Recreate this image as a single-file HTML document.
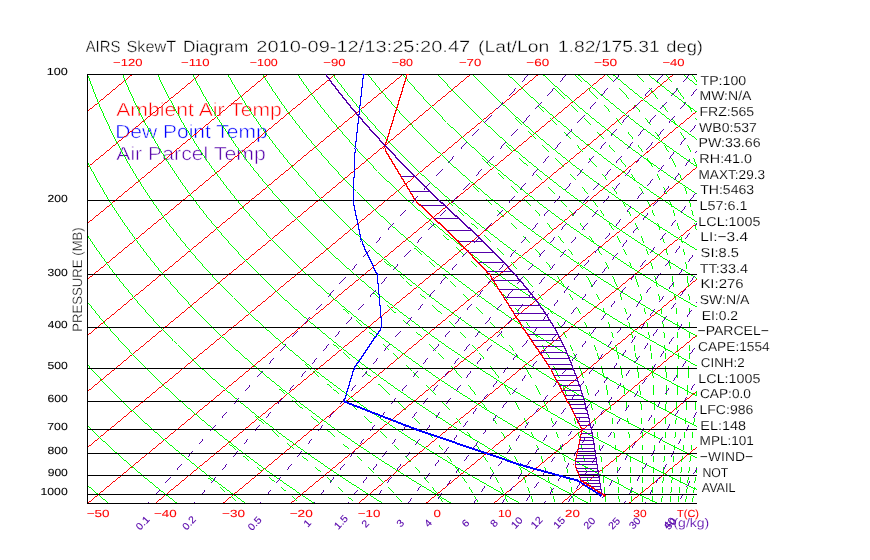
<!DOCTYPE html>
<html lang="en"><head><meta charset="utf-8"><title>AIRS SkewT Diagram</title>
<style>
html,body{margin:0;padding:0;background:#fff;}
body{width:870px;height:560px;overflow:hidden;font-family:"Liberation Sans", sans-serif;}
svg{display:block;position:absolute;left:0;top:0;}
svg text{font-family:"Liberation Sans", sans-serif;}
</style></head><body>
<svg width="870" height="560" viewBox="0 0 870 560">
<rect x="0" y="0" width="870" height="560" fill="#ffffff"/>
<defs><clipPath id="plot"><rect x="87" y="74" width="610" height="430"/></clipPath></defs>
<g text-rendering="geometricPrecision">
<text x="116.22" y="116.40" fill="#ff0000" font-size="19" textLength="165.65" lengthAdjust="spacingAndGlyphs" stroke="#fff" stroke-width="0.5">Ambient Air Temp</text>
<text x="115.16" y="137.60" fill="#0000ff" font-size="19" textLength="152.56" lengthAdjust="spacingAndGlyphs" stroke="#fff" stroke-width="0.5">Dew Point Temp</text>
<text x="116.22" y="159.70" fill="#5500aa" font-size="19" textLength="149.59" lengthAdjust="spacingAndGlyphs" stroke="#fff" stroke-width="0.5">Air Parcel Temp</text>
</g>
<g clip-path="url(#plot)" shape-rendering="crispEdges">
<path fill="#ff0000" d="M85.5 112.6L132.2 74L132.2 75L85.5 113.6ZM85.5 168.6L199.9 74L199.9 75L85.5 169.6ZM85.5 224.6L267.5 74L267.5 75L85.5 225.6ZM85.5 280.6L335.2 74L335.2 75L85.5 281.6ZM85.5 336.7L402.9 74L402.9 75L85.5 337.7ZM85.5 392.7L470.5 74L470.5 75L85.5 393.7ZM85.5 448.7L538.2 74L538.2 75L85.5 449.7ZM87.5 503L605.9 74L605.9 75L87.5 504ZM155.2 503L673.5 74L673.5 75L155.2 504ZM222.8 503L698.5 109.3L698.5 110.3L222.8 504ZM290.5 503L698.5 165.3L698.5 166.3L290.5 504ZM358.2 503L698.5 221.3L698.5 222.3L358.2 504ZM425.8 503L698.5 277.3L698.5 278.3L425.8 504ZM493.5 503L698.5 333.3L698.5 334.3L493.5 504ZM561.2 503L698.5 389.3L698.5 390.3L561.2 504ZM628.8 503L698.5 445.3L698.5 446.3L628.8 504ZM696.5 503L698.5 501.3L698.5 502.3L696.5 504Z"/>
<path fill="#00ff00" d="M108.7 503L106.6 501.3L104.6 499.5L102.5 497.7L100.4 495.9L98.3 494.1L96.1 492.3L94 490.4L91.9 488.5L89.7 486.7L87.6 484.7L85.4 482.8L85.4 483.8L87.6 485.7L89.7 487.7L91.9 489.5L94 491.4L96.1 493.3L98.3 495.1L100.4 496.9L102.5 498.7L104.6 500.5L106.6 502.3L108.7 504ZM177.3 503L175.1 501.3L172.8 499.5L170.5 497.7L168.2 495.9L165.9 494.1L163.6 492.3L161.3 490.4L159 488.5L156.6 486.7L154.3 484.7L151.9 482.8L149.5 480.9L147.1 478.9L144.7 476.9L142.3 474.9L139.9 472.8L137.5 470.8L135 468.7L132.6 466.6L130.1 464.4L127.6 462.3L125.1 460.1L122.6 457.9L120.1 455.7L117.6 453.4L115 451.1L112.5 448.8L109.9 446.4L107.3 444L104.7 441.6L102.1 439.2L99.5 436.7L96.9 434.2L94.2 431.6L91.5 429L88.9 426.4L86.2 423.7L83.5 421L83.5 422L86.2 424.7L88.9 427.4L91.5 430L94.2 432.6L96.9 435.2L99.5 437.7L102.1 440.2L104.7 442.6L107.3 445L109.9 447.4L112.5 449.8L115 452.1L117.6 454.4L120.1 456.7L122.6 458.9L125.1 461.1L127.6 463.3L130.1 465.4L132.6 467.6L135 469.7L137.5 471.8L139.9 473.8L142.3 475.9L144.7 477.9L147.1 479.9L149.5 481.9L151.9 483.8L154.3 485.7L156.6 487.7L159 489.5L161.3 491.4L163.6 493.3L165.9 495.1L168.2 496.9L170.5 498.7L172.8 500.5L175.1 502.3L177.3 504ZM246 503L243.5 501.3L241 499.5L238.6 497.7L236.1 495.9L233.6 494.1L231.1 492.3L228.6 490.4L226 488.5L223.5 486.7L220.9 484.7L218.4 482.8L215.8 480.9L213.2 478.9L210.6 476.9L208 474.9L205.3 472.8L202.7 470.8L200 468.7L197.4 466.6L194.7 464.4L192 462.3L189.3 460.1L186.6 457.9L183.8 455.7L181.1 453.4L178.3 451.1L175.5 448.8L172.7 446.4L169.9 444L167.1 441.6L164.2 439.2L161.3 436.7L158.5 434.2L155.6 431.6L152.7 429L149.7 426.4L146.8 423.7L143.8 421L140.8 418.3L137.8 415.5L134.8 412.7L131.8 409.8L128.7 406.9L125.6 403.9L122.6 400.9L119.4 397.8L116.3 394.7L116.3 395.7L119.4 398.8L122.6 401.9L125.6 404.9L128.7 407.9L131.8 410.8L134.8 413.7L137.8 416.5L140.8 419.3L143.8 422L146.8 424.7L149.7 427.4L152.7 430L155.6 432.6L158.5 435.2L161.3 437.7L164.2 440.2L167.1 442.6L169.9 445L172.7 447.4L175.5 449.8L178.3 452.1L181.1 454.4L183.8 456.7L186.6 458.9L189.3 461.1L192 463.3L194.7 465.4L197.4 467.6L200 469.7L202.7 471.8L205.3 473.8L208 475.9L210.6 477.9L213.2 479.9L215.8 481.9L218.4 483.8L220.9 485.7L223.5 487.7L226 489.5L228.6 491.4L231.1 493.3L233.6 495.1L236.1 496.9L238.6 498.7L241 500.5L243.5 502.3L246 504ZM115.8 395.2L112.7 392L109.5 388.8L106.3 385.5L103.1 382.2L99.8 378.8L96.6 375.3L93.3 371.7L90 368.1L86.7 364.5L83.3 360.7L84.3 360.7L87.7 364.5L91 368.1L94.3 371.7L97.6 375.3L100.8 378.8L104.1 382.2L107.3 385.5L110.5 388.8L113.7 392L116.8 395.2ZM314.6 503L311.9 501.3L309.3 499.5L306.6 497.7L303.9 495.9L301.3 494.1L298.6 492.3L295.8 490.4L293.1 488.5L290.4 486.7L287.6 484.7L284.8 482.8L282.1 480.9L279.3 478.9L276.5 476.9L273.6 474.9L270.8 472.8L267.9 470.8L265.1 468.7L262.2 466.6L259.3 464.4L256.4 462.3L253.4 460.1L250.5 457.9L247.5 455.7L244.5 453.4L241.5 451.1L238.5 448.8L235.5 446.4L232.4 444L229.4 441.6L226.3 439.2L223.2 436.7L220.1 434.2L216.9 431.6L213.8 429L210.6 426.4L207.4 423.7L204.2 421L200.9 418.3L197.7 415.5L194.4 412.7L191.1 409.8L187.7 406.9L184.4 403.9L181 400.9L177.6 397.8L174.2 394.7L170.8 391.5L167.3 388.3L163.8 385L160.3 381.7L156.8 378.3L153.2 374.8L149.6 371.2L146 367.6L146 368.6L149.6 372.2L153.2 375.8L156.8 379.3L160.3 382.7L163.8 386L167.3 389.3L170.8 392.5L174.2 395.7L177.6 398.8L181 401.9L184.4 404.9L187.7 407.9L191.1 410.8L194.4 413.7L197.7 416.5L200.9 419.3L204.2 422L207.4 424.7L210.6 427.4L213.8 430L216.9 432.6L220.1 435.2L223.2 437.7L226.3 440.2L229.4 442.6L232.4 445L235.5 447.4L238.5 449.8L241.5 452.1L244.5 454.4L247.5 456.7L250.5 458.9L253.4 461.1L256.4 463.3L259.3 465.4L262.2 467.6L265.1 469.7L267.9 471.8L270.8 473.8L273.6 475.9L276.5 477.9L279.3 479.9L282.1 481.9L284.8 483.8L287.6 485.7L290.4 487.7L293.1 489.5L295.8 491.4L298.6 493.3L301.3 495.1L303.9 496.9L306.6 498.7L309.3 500.5L311.9 502.3L314.6 504ZM145.5 368.1L141.9 364.5L138.2 360.7L134.5 356.8L130.8 352.9L127 348.9L123.2 344.8L119.4 340.6L115.6 336.3L111.7 331.9L107.8 327.4L103.9 322.8L99.9 318.1L96 313.2L91.9 308.2L87.9 303.1L83.8 297.8L84.8 297.8L88.9 303.1L92.9 308.2L97 313.2L100.9 318.1L104.9 322.8L108.8 327.4L112.7 331.9L116.6 336.3L120.4 340.6L124.2 344.8L128 348.9L131.8 352.9L135.5 356.8L139.2 360.7L142.9 364.5L146.5 368.1ZM383.2 503L380.4 501.3L377.5 499.5L374.7 497.7L371.8 495.9L368.9 494.1L366 492.3L363.1 490.4L360.2 488.5L357.3 486.7L354.3 484.7L351.3 482.8L348.3 480.9L345.3 478.9L342.3 476.9L339.3 474.9L336.2 472.8L333.2 470.8L330.1 468.7L327 466.6L323.9 464.4L320.7 462.3L317.6 460.1L314.4 457.9L311.2 455.7L308 453.4L304.8 451.1L301.5 448.8L298.3 446.4L295 444L291.7 441.6L288.4 439.2L285 436.7L281.7 434.2L278.3 431.6L274.9 429L271.4 426.4L268 423.7L264.5 421L261 418.3L257.5 415.5L253.9 412.7L250.4 409.8L246.8 406.9L243.1 403.9L239.5 400.9L235.8 397.8L232.1 394.7L228.4 391.5L224.6 388.3L220.9 385L217 381.7L213.2 378.3L209.3 374.8L205.4 371.2L201.5 367.6L197.5 364L193.6 360.2L189.5 356.3L185.5 352.4L181.4 348.4L177.3 344.3L177.3 345.3L181.4 349.4L185.5 353.4L189.5 357.3L193.6 361.2L197.5 365L201.5 368.6L205.4 372.2L209.3 375.8L213.2 379.3L217 382.7L220.9 386L224.6 389.3L228.4 392.5L232.1 395.7L235.8 398.8L239.5 401.9L243.1 404.9L246.8 407.9L250.4 410.8L253.9 413.7L257.5 416.5L261 419.3L264.5 422L268 424.7L271.4 427.4L274.9 430L278.3 432.6L281.7 435.2L285 437.7L288.4 440.2L291.7 442.6L295 445L298.3 447.4L301.5 449.8L304.8 452.1L308 454.4L311.2 456.7L314.4 458.9L317.6 461.1L320.7 463.3L323.9 465.4L327 467.6L330.1 469.7L333.2 471.8L336.2 473.8L339.3 475.9L342.3 477.9L345.3 479.9L348.3 481.9L351.3 483.8L354.3 485.7L357.3 487.7L360.2 489.5L363.1 491.4L366 493.3L368.9 495.1L371.8 496.9L374.7 498.7L377.5 500.5L380.4 502.3L383.2 504ZM176.8 344.8L172.6 340.6L168.4 336.3L164.2 331.9L159.9 327.4L155.6 322.8L151.3 318.1L146.9 313.2L142.5 308.2L138 303.1L133.5 297.8L129 292.3L124.4 286.7L119.8 280.9L115.1 274.9L110.4 268.8L105.7 262.4L100.9 255.7L96 248.8L91.2 241.7L86.3 234.2L81.3 226.5L82.3 226.5L87.3 234.2L92.2 241.7L97 248.8L101.9 255.7L106.7 262.4L111.4 268.8L116.1 274.9L120.8 280.9L125.4 286.7L130 292.3L134.5 297.8L139 303.1L143.5 308.2L147.9 313.2L152.3 318.1L156.6 322.8L160.9 327.4L165.2 331.9L169.4 336.3L173.6 340.6L177.8 344.8ZM451.8 503L448.8 501.3L445.8 499.5L442.7 497.7L439.7 495.9L436.6 494.1L433.5 492.3L430.4 490.4L427.3 488.5L424.1 486.7L421 484.7L417.8 482.8L414.6 480.9L411.4 478.9L408.2 476.9L404.9 474.9L401.7 472.8L398.4 470.8L395.1 468.7L391.8 466.6L388.5 464.4L385.1 462.3L381.7 460.1L378.4 457.9L374.9 455.7L371.5 453.4L368.1 451.1L364.6 448.8L361.1 446.4L357.6 444L354 441.6L350.5 439.2L346.9 436.7L343.3 434.2L339.6 431.6L336 429L332.3 426.4L328.6 423.7L324.8 421L321.1 418.3L317.3 415.5L313.5 412.7L309.6 409.8L305.8 406.9L301.9 403.9L298 400.9L294 397.8L290 394.7L286 391.5L282 388.3L277.9 385L273.8 381.7L269.6 378.3L265.5 374.8L261.2 371.2L257 367.6L252.7 364L248.4 360.2L244.1 356.3L239.7 352.4L235.2 348.4L230.8 344.3L226.3 340.1L221.7 335.8L217.1 331.4L212.5 326.9L207.8 322.3L207.8 323.3L212.5 327.9L217.1 332.4L221.7 336.8L226.3 341.1L230.8 345.3L235.2 349.4L239.7 353.4L244.1 357.3L248.4 361.2L252.7 365L257 368.6L261.2 372.2L265.5 375.8L269.6 379.3L273.8 382.7L277.9 386L282 389.3L286 392.5L290 395.7L294 398.8L298 401.9L301.9 404.9L305.8 407.9L309.6 410.8L313.5 413.7L317.3 416.5L321.1 419.3L324.8 422L328.6 424.7L332.3 427.4L336 430L339.6 432.6L343.3 435.2L346.9 437.7L350.5 440.2L354 442.6L357.6 445L361.1 447.4L364.6 449.8L368.1 452.1L371.5 454.4L374.9 456.7L378.4 458.9L381.7 461.1L385.1 463.3L388.5 465.4L391.8 467.6L395.1 469.7L398.4 471.8L401.7 473.8L404.9 475.9L408.2 477.9L411.4 479.9L414.6 481.9L417.8 483.8L421 485.7L424.1 487.7L427.3 489.5L430.4 491.4L433.5 493.3L436.6 495.1L439.7 496.9L442.7 498.7L445.8 500.5L448.8 502.3L451.8 504ZM207.3 322.8L202.6 318.1L197.8 313.2L193 308.2L188.1 303.1L183.2 297.8L178.2 292.3L173.2 286.7L168.2 280.9L163.1 274.9L157.9 268.8L152.7 262.4L147.4 255.7L142.1 248.8L136.7 241.7L131.3 234.2L125.8 226.5L120.2 218.4L114.6 209.9L109 201L103.3 191.6L97.6 181.7L91.9 171.3L86.1 160.3L80.3 148.5L81.3 148.5L87.1 160.3L92.9 171.3L98.6 181.7L104.3 191.6L110 201L115.6 209.9L121.2 218.4L126.8 226.5L132.3 234.2L137.7 241.7L143.1 248.8L148.4 255.7L153.7 262.4L158.9 268.8L164.1 274.9L169.2 280.9L174.2 286.7L179.2 292.3L184.2 297.8L189.1 303.1L194 308.2L198.8 313.2L203.6 318.1L208.3 322.8ZM520.4 503L517.2 501.3L514 499.5L510.8 497.7L507.5 495.9L504.3 494.1L501 492.3L497.7 490.4L494.4 488.5L491 486.7L487.7 484.7L484.3 482.8L480.9 480.9L477.5 478.9L474.1 476.9L470.6 474.9L467.1 472.8L463.7 470.8L460.1 468.7L456.6 466.6L453.1 464.4L449.5 462.3L445.9 460.1L442.3 457.9L438.6 455.7L435 453.4L431.3 451.1L427.6 448.8L423.9 446.4L420.1 444L416.3 441.6L412.5 439.2L408.7 436.7L404.9 434.2L401 431.6L397.1 429L393.1 426.4L389.2 423.7L385.2 421L381.2 418.3L377.1 415.5L373 412.7L368.9 409.8L364.8 406.9L360.6 403.9L356.4 400.9L352.2 397.8L347.9 394.7L343.6 391.5L339.3 388.3L334.9 385L330.5 381.7L326.1 378.3L321.6 374.8L317.1 371.2L312.5 367.6L307.9 364L303.3 360.2L298.6 356.3L293.9 352.4L289.1 348.4L284.3 344.3L279.4 340.1L274.5 335.8L269.5 331.4L264.5 326.9L259.5 322.3L254.4 317.6L249.2 312.7L244 307.7L238.7 302.6L233.4 297.3L233.4 298.3L238.7 303.6L244 308.7L249.2 313.7L254.4 318.6L259.5 323.3L264.5 327.9L269.5 332.4L274.5 336.8L279.4 341.1L284.3 345.3L289.1 349.4L293.9 353.4L298.6 357.3L303.3 361.2L307.9 365L312.5 368.6L317.1 372.2L321.6 375.8L326.1 379.3L330.5 382.7L334.9 386L339.3 389.3L343.6 392.5L347.9 395.7L352.2 398.8L356.4 401.9L360.6 404.9L364.8 407.9L368.9 410.8L373 413.7L377.1 416.5L381.2 419.3L385.2 422L389.2 424.7L393.1 427.4L397.1 430L401 432.6L404.9 435.2L408.7 437.7L412.5 440.2L416.3 442.6L420.1 445L423.9 447.4L427.6 449.8L431.3 452.1L435 454.4L438.6 456.7L442.3 458.9L445.9 461.1L449.5 463.3L453.1 465.4L456.6 467.6L460.1 469.7L463.7 471.8L467.1 473.8L470.6 475.9L474.1 477.9L477.5 479.9L480.9 481.9L484.3 483.8L487.7 485.7L491 487.7L494.4 489.5L497.7 491.4L501 493.3L504.3 495.1L507.5 496.9L510.8 498.7L514 500.5L517.2 502.3L520.4 504ZM232.9 297.8L227.5 292.3L222.1 286.7L216.6 280.9L211 274.9L205.4 268.8L199.7 262.4L193.9 255.7L188.1 248.8L182.2 241.7L176.2 234.2L170.2 226.5L164.1 218.4L158 209.9L151.7 201L145.4 191.6L139 181.7L132.6 171.3L126.1 160.3L119.6 148.5L113.1 135.9L106.5 122.4L100 107.8L93.5 91.9L87.1 74.5L88.1 74.5L94.5 91.9L101 107.8L107.5 122.4L114.1 135.9L120.6 148.5L127.1 160.3L133.6 171.3L140 181.7L146.4 191.6L152.7 201L159 209.9L165.1 218.4L171.2 226.5L177.2 234.2L183.2 241.7L189.1 248.8L194.9 255.7L200.7 262.4L206.4 268.8L212 274.9L217.6 280.9L223.1 286.7L228.5 292.3L233.9 297.8ZM589 503L585.7 501.3L582.2 499.5L578.8 497.7L575.4 495.9L571.9 494.1L568.4 492.3L564.9 490.4L561.4 488.5L557.9 486.7L554.3 484.7L550.8 482.8L547.2 480.9L543.6 478.9L539.9 476.9L536.3 474.9L532.6 472.8L528.9 470.8L525.2 468.7L521.4 466.6L517.7 464.4L513.9 462.3L510.1 460.1L506.2 457.9L502.4 455.7L498.5 453.4L494.6 451.1L490.6 448.8L486.7 446.4L482.7 444L478.7 441.6L474.6 439.2L470.6 436.7L466.5 434.2L462.3 431.6L458.2 429L454 426.4L449.8 423.7L445.5 421L441.3 418.3L436.9 415.5L432.6 412.7L428.2 409.8L423.8 406.9L419.4 403.9L414.9 400.9L410.4 397.8L405.8 394.7L401.2 391.5L396.6 388.3L391.9 385L387.2 381.7L382.5 378.3L377.7 374.8L372.9 371.2L368 367.6L363.1 364L358.1 360.2L353.1 356.3L348 352.4L342.9 348.4L337.8 344.3L332.6 340.1L327.3 335.8L322 331.4L316.6 326.9L311.2 322.3L305.7 317.6L300.1 312.7L294.5 307.7L288.8 302.6L283.1 297.3L277.3 291.8L271.4 286.2L265.5 280.4L259.5 274.4L259.5 275.4L265.5 281.4L271.4 287.2L277.3 292.8L283.1 298.3L288.8 303.6L294.5 308.7L300.1 313.7L305.7 318.6L311.2 323.3L316.6 327.9L322 332.4L327.3 336.8L332.6 341.1L337.8 345.3L342.9 349.4L348 353.4L353.1 357.3L358.1 361.2L363.1 365L368 368.6L372.9 372.2L377.7 375.8L382.5 379.3L387.2 382.7L391.9 386L396.6 389.3L401.2 392.5L405.8 395.7L410.4 398.8L414.9 401.9L419.4 404.9L423.8 407.9L428.2 410.8L432.6 413.7L436.9 416.5L441.3 419.3L445.5 422L449.8 424.7L454 427.4L458.2 430L462.3 432.6L466.5 435.2L470.6 437.7L474.6 440.2L478.7 442.6L482.7 445L486.7 447.4L490.6 449.8L494.6 452.1L498.5 454.4L502.4 456.7L506.2 458.9L510.1 461.1L513.9 463.3L517.7 465.4L521.4 467.6L525.2 469.7L528.9 471.8L532.6 473.8L536.3 475.9L539.9 477.9L543.6 479.9L547.2 481.9L550.8 483.8L554.3 485.7L557.9 487.7L561.4 489.5L564.9 491.4L568.4 493.3L571.9 495.1L575.4 496.9L578.8 498.7L582.2 500.5L585.7 502.3L589 504ZM259 274.9L252.9 268.8L246.7 262.4L240.5 255.7L234.1 248.8L227.7 241.7L221.2 234.2L214.7 226.5L208 218.4L201.3 209.9L194.4 201L187.5 191.6L180.5 181.7L173.4 171.3L166.2 160.3L159 148.5L151.6 135.9L144.3 122.4L136.9 107.8L129.5 91.9L122.1 74.5L123.1 74.5L130.5 91.9L137.9 107.8L145.3 122.4L152.6 135.9L160 148.5L167.2 160.3L174.4 171.3L181.5 181.7L188.5 191.6L195.4 201L202.3 209.9L209 218.4L215.7 226.5L222.2 234.2L228.7 241.7L235.1 248.8L241.5 255.7L247.7 262.4L253.9 268.8L260 274.9ZM657.7 503L654.1 501.3L650.5 499.5L646.9 497.7L643.2 495.9L639.6 494.1L635.9 492.3L632.2 490.4L628.5 488.5L624.8 486.7L621 484.7L617.2 482.8L613.4 480.9L609.6 478.9L605.8 476.9L601.9 474.9L598 472.8L594.1 470.8L590.2 468.7L586.2 466.6L582.2 464.4L578.2 462.3L574.2 460.1L570.1 457.9L566.1 455.7L562 453.4L557.8 451.1L553.7 448.8L549.5 446.4L545.2 444L541 441.6L536.7 439.2L532.4 436.7L528.1 434.2L523.7 431.6L519.3 429L514.8 426.4L510.4 423.7L505.9 421L501.3 418.3L496.8 415.5L492.2 412.7L487.5 409.8L482.8 406.9L478.1 403.9L473.4 400.9L468.6 397.8L463.7 394.7L458.9 391.5L453.9 388.3L449 385L444 381.7L438.9 378.3L433.8 374.8L428.7 371.2L423.5 367.6L418.3 364L413 360.2L407.6 356.3L402.2 352.4L396.8 348.4L391.3 344.3L385.7 340.1L380.1 335.8L374.4 331.4L368.7 326.9L362.9 322.3L357 317.6L351.1 312.7L345 307.7L339 302.6L332.8 297.3L326.6 291.8L320.3 286.2L313.9 280.4L307.4 274.4L300.9 268.3L294.2 261.9L287.5 255.2L287.5 256.2L294.2 262.9L300.9 269.3L307.4 275.4L313.9 281.4L320.3 287.2L326.6 292.8L332.8 298.3L339 303.6L345 308.7L351.1 313.7L357 318.6L362.9 323.3L368.7 327.9L374.4 332.4L380.1 336.8L385.7 341.1L391.3 345.3L396.8 349.4L402.2 353.4L407.6 357.3L413 361.2L418.3 365L423.5 368.6L428.7 372.2L433.8 375.8L438.9 379.3L444 382.7L449 386L453.9 389.3L458.9 392.5L463.7 395.7L468.6 398.8L473.4 401.9L478.1 404.9L482.8 407.9L487.5 410.8L492.2 413.7L496.8 416.5L501.3 419.3L505.9 422L510.4 424.7L514.8 427.4L519.3 430L523.7 432.6L528.1 435.2L532.4 437.7L536.7 440.2L541 442.6L545.2 445L549.5 447.4L553.7 449.8L557.8 452.1L562 454.4L566.1 456.7L570.1 458.9L574.2 461.1L578.2 463.3L582.2 465.4L586.2 467.6L590.2 469.7L594.1 471.8L598 473.8L601.9 475.9L605.8 477.9L609.6 479.9L613.4 481.9L617.2 483.8L621 485.7L624.8 487.7L628.5 489.5L632.2 491.4L635.9 493.3L639.6 495.1L643.2 496.9L646.9 498.7L650.5 500.5L654.1 502.3L657.7 504ZM287 255.7L280.2 248.8L273.2 241.7L266.2 234.2L259.1 226.5L251.9 218.4L244.6 209.9L237.1 201L229.6 191.6L221.9 181.7L214.2 171.3L206.3 160.3L198.3 148.5L190.2 135.9L182 122.4L173.8 107.8L165.5 91.9L157.1 74.5L158.1 74.5L166.5 91.9L174.8 107.8L183 122.4L191.2 135.9L199.3 148.5L207.3 160.3L215.2 171.3L222.9 181.7L230.6 191.6L238.1 201L245.6 209.9L252.9 218.4L260.1 226.5L267.2 234.2L274.2 241.7L281.2 248.8L288 255.7ZM699.5 490.4L695.6 488.5L691.7 486.7L687.7 484.7L683.7 482.8L679.7 480.9L675.7 478.9L671.7 476.9L667.6 474.9L663.5 472.8L659.4 470.8L655.2 468.7L651 466.6L646.8 464.4L642.6 462.3L638.4 460.1L634.1 457.9L629.8 455.7L625.4 453.4L621.1 451.1L616.7 448.8L612.2 446.4L607.8 444L603.3 441.6L598.8 439.2L594.2 436.7L589.7 434.2L585 431.6L580.4 429L575.7 426.4L571 423.7L566.2 421L561.4 418.3L556.6 415.5L551.7 412.7L546.8 409.8L541.9 406.9L536.9 403.9L531.8 400.9L526.8 397.8L521.6 394.7L516.5 391.5L511.3 388.3L506 385L500.7 381.7L495.4 378.3L490 374.8L484.5 371.2L479 367.6L473.4 364L467.8 360.2L462.2 356.3L456.4 352.4L450.6 348.4L444.8 344.3L438.9 340.1L432.9 335.8L426.9 331.4L420.7 326.9L414.6 322.3L408.3 317.6L402 312.7L395.6 307.7L389.1 302.6L382.5 297.3L375.9 291.8L369.1 286.2L362.3 280.4L355.4 274.4L348.4 268.3L341.2 261.9L334 255.2L326.7 248.3L319.3 241.2L311.7 233.7L311.7 234.7L319.3 242.2L326.7 249.3L334 256.2L341.2 262.9L348.4 269.3L355.4 275.4L362.3 281.4L369.1 287.2L375.9 292.8L382.5 298.3L389.1 303.6L395.6 308.7L402 313.7L408.3 318.6L414.6 323.3L420.7 327.9L426.9 332.4L432.9 336.8L438.9 341.1L444.8 345.3L450.6 349.4L456.4 353.4L462.2 357.3L467.8 361.2L473.4 365L479 368.6L484.5 372.2L490 375.8L495.4 379.3L500.7 382.7L506 386L511.3 389.3L516.5 392.5L521.6 395.7L526.8 398.8L531.8 401.9L536.9 404.9L541.9 407.9L546.8 410.8L551.7 413.7L556.6 416.5L561.4 419.3L566.2 422L571 424.7L575.7 427.4L580.4 430L585 432.6L589.7 435.2L594.2 437.7L598.8 440.2L603.3 442.6L607.8 445L612.2 447.4L616.7 449.8L621.1 452.1L625.4 454.4L629.8 456.7L634.1 458.9L638.4 461.1L642.6 463.3L646.8 465.4L651 467.6L655.2 469.7L659.4 471.8L663.5 473.8L667.6 475.9L671.7 477.9L675.7 479.9L679.7 481.9L683.7 483.8L687.7 485.7L691.7 487.7L695.6 489.5L699.5 491.4ZM311.2 234.2L303.6 226.5L295.8 218.4L287.9 209.9L279.8 201L271.7 191.6L263.4 181.7L254.9 171.3L246.3 160.3L237.6 148.5L228.8 135.9L219.8 122.4L210.7 107.8L201.4 91.9L192.1 74.5L193.1 74.5L202.4 91.9L211.7 107.8L220.8 122.4L229.8 135.9L238.6 148.5L247.3 160.3L255.9 171.3L264.4 181.7L272.7 191.6L280.8 201L288.9 209.9L296.8 218.4L304.6 226.5L312.2 234.2ZM702.5 460.1L698 457.9L693.5 455.7L688.9 453.4L684.3 451.1L679.7 448.8L675 446.4L670.4 444L665.6 441.6L660.9 439.2L656.1 436.7L651.3 434.2L646.4 431.6L641.5 429L636.5 426.4L631.6 423.7L626.6 421L621.5 418.3L616.4 415.5L611.3 412.7L606.1 409.8L600.9 406.9L595.6 403.9L590.3 400.9L584.9 397.8L579.5 394.7L574.1 391.5L568.6 388.3L563 385L557.4 381.7L551.8 378.3L546.1 374.8L540.3 371.2L534.5 367.6L528.6 364L522.7 360.2L516.7 356.3L510.6 352.4L504.5 348.4L498.3 344.3L492 340.1L485.7 335.8L479.3 331.4L472.8 326.9L466.2 322.3L459.6 317.6L452.9 312.7L446.1 307.7L439.2 302.6L432.2 297.3L425.1 291.8L418 286.2L410.7 280.4L403.3 274.4L395.8 268.3L388.3 261.9L380.6 255.2L372.7 248.3L364.8 241.2L356.7 233.7L348.5 226L340.2 217.9L331.7 209.4L331.7 210.4L340.2 218.9L348.5 227L356.7 234.7L364.8 242.2L372.7 249.3L380.6 256.2L388.3 262.9L395.8 269.3L403.3 275.4L410.7 281.4L418 287.2L425.1 292.8L432.2 298.3L439.2 303.6L446.1 308.7L452.9 313.7L459.6 318.6L466.2 323.3L472.8 327.9L479.3 332.4L485.7 336.8L492 341.1L498.3 345.3L504.5 349.4L510.6 353.4L516.7 357.3L522.7 361.2L528.6 365L534.5 368.6L540.3 372.2L546.1 375.8L551.8 379.3L557.4 382.7L563 386L568.6 389.3L574.1 392.5L579.5 395.7L584.9 398.8L590.3 401.9L595.6 404.9L600.9 407.9L606.1 410.8L611.3 413.7L616.4 416.5L621.5 419.3L626.6 422L631.6 424.7L636.5 427.4L641.5 430L646.4 432.6L651.3 435.2L656.1 437.7L660.9 440.2L665.6 442.6L670.4 445L675 447.4L679.7 449.8L684.3 452.1L688.9 454.4L693.5 456.7L698 458.9L702.5 461.1ZM331.2 209.9L322.5 201L313.7 191.6L304.8 181.7L295.7 171.3L286.4 160.3L277 148.5L267.3 135.9L257.5 122.4L247.6 107.8L237.4 91.9L227.2 74.5L228.2 74.5L238.4 91.9L248.6 107.8L258.5 122.4L268.3 135.9L278 148.5L287.4 160.3L296.7 171.3L305.8 181.7L314.7 191.6L323.5 201L332.2 209.9ZM702.6 429L697.4 426.4L692.2 423.7L686.9 421L681.6 418.3L676.2 415.5L670.8 412.7L665.4 409.8L659.9 406.9L654.4 403.9L648.8 400.9L643.1 397.8L637.5 394.7L631.7 391.5L625.9 388.3L620.1 385L614.2 381.7L608.2 378.3L602.2 374.8L596.1 371.2L590 367.6L583.8 364L577.5 360.2L571.2 356.3L564.8 352.4L558.3 348.4L551.8 344.3L545.2 340.1L538.5 335.8L531.7 331.4L524.9 326.9L517.9 322.3L510.9 317.6L503.8 312.7L496.6 307.7L489.3 302.6L481.9 297.3L474.4 291.8L466.8 286.2L459.1 280.4L451.3 274.4L443.3 268.3L435.3 261.9L427.1 255.2L418.8 248.3L410.3 241.2L401.7 233.7L392.9 226L384 217.9L375 209.4L365.7 200.5L356.3 191.1L356.3 192.1L365.7 201.5L375 210.4L384 218.9L392.9 227L401.7 234.7L410.3 242.2L418.8 249.3L427.1 256.2L435.3 262.9L443.3 269.3L451.3 275.4L459.1 281.4L466.8 287.2L474.4 292.8L481.9 298.3L489.3 303.6L496.6 308.7L503.8 313.7L510.9 318.6L517.9 323.3L524.9 327.9L531.7 332.4L538.5 336.8L545.2 341.1L551.8 345.3L558.3 349.4L564.8 353.4L571.2 357.3L577.5 361.2L583.8 365L590 368.6L596.1 372.2L602.2 375.8L608.2 379.3L614.2 382.7L620.1 386L625.9 389.3L631.7 392.5L637.5 395.7L643.1 398.8L648.8 401.9L654.4 404.9L659.9 407.9L665.4 410.8L670.8 413.7L676.2 416.5L681.6 419.3L686.9 422L692.2 424.7L697.4 427.4L702.6 430ZM355.8 191.6L346.2 181.7L336.4 171.3L326.5 160.3L316.3 148.5L305.9 135.9L295.3 122.4L284.5 107.8L273.4 91.9L262.2 74.5L263.2 74.5L274.4 91.9L285.5 107.8L296.3 122.4L306.9 135.9L317.3 148.5L327.5 160.3L337.4 171.3L347.2 181.7L356.8 191.6ZM701.3 397.8L695.4 394.7L689.3 391.5L683.2 388.3L677.1 385L670.9 381.7L664.7 378.3L658.3 374.8L651.9 371.2L645.5 367.6L639 364L632.4 360.2L625.7 356.3L619 352.4L612.2 348.4L605.3 344.3L598.3 340.1L591.3 335.8L584.2 331.4L576.9 326.9L569.6 322.3L562.2 317.6L554.7 312.7L547.1 307.7L539.4 302.6L531.6 297.3L523.7 291.8L515.7 286.2L507.5 280.4L499.2 274.4L490.8 268.3L482.3 261.9L473.6 255.2L464.8 248.3L455.8 241.2L446.7 233.7L437.4 226L427.9 217.9L418.3 209.4L408.4 200.5L398.4 191.1L388.2 181.2L377.7 170.8L377.7 171.8L388.2 182.2L398.4 192.1L408.4 201.5L418.3 210.4L427.9 218.9L437.4 227L446.7 234.7L455.8 242.2L464.8 249.3L473.6 256.2L482.3 262.9L490.8 269.3L499.2 275.4L507.5 281.4L515.7 287.2L523.7 292.8L531.6 298.3L539.4 303.6L547.1 308.7L554.7 313.7L562.2 318.6L569.6 323.3L576.9 327.9L584.2 332.4L591.3 336.8L598.3 341.1L605.3 345.3L612.2 349.4L619 353.4L625.7 357.3L632.4 361.2L639 365L645.5 368.6L651.9 372.2L658.3 375.8L664.7 379.3L670.9 382.7L677.1 386L683.2 389.3L689.3 392.5L695.4 395.7L701.3 398.8ZM377.2 171.3L366.5 160.3L355.6 148.5L344.5 135.9L333 122.4L321.4 107.8L309.4 91.9L297.2 74.5L298.2 74.5L310.4 91.9L322.4 107.8L334 122.4L345.5 135.9L356.6 148.5L367.5 160.3L378.2 171.3ZM701 367.6L694.2 364L687.2 360.2L680.3 356.3L673.2 352.4L666 348.4L658.8 344.3L651.5 340.1L644.1 335.8L636.6 331.4L629 326.9L621.3 322.3L613.5 317.6L605.6 312.7L597.7 307.7L589.5 302.6L581.3 297.3L573 291.8L564.5 286.2L555.9 280.4L547.2 274.4L538.3 268.3L529.3 261.9L520.1 255.2L510.8 248.3L501.3 241.2L491.7 233.7L481.8 226L471.8 217.9L461.6 209.4L451.1 200.5L440.5 191.1L429.6 181.2L418.5 170.8L407.1 159.8L407.1 160.8L418.5 171.8L429.6 182.2L440.5 192.1L451.1 201.5L461.6 210.4L471.8 218.9L481.8 227L491.7 234.7L501.3 242.2L510.8 249.3L520.1 256.2L529.3 262.9L538.3 269.3L547.2 275.4L555.9 281.4L564.5 287.2L573 292.8L581.3 298.3L589.5 303.6L597.7 308.7L605.6 313.7L613.5 318.6L621.3 323.3L629 327.9L636.6 332.4L644.1 336.8L651.5 341.1L658.8 345.3L666 349.4L673.2 353.4L680.3 357.3L687.2 361.2L694.2 365L701 368.6ZM406.6 160.3L394.9 148.5L383 135.9L370.8 122.4L358.3 107.8L345.4 91.9L332.2 74.5L333.2 74.5L346.4 91.9L359.3 107.8L371.8 122.4L384 135.9L395.9 148.5L407.6 160.3ZM704.6 340.1L696.9 335.8L689 331.4L681.1 326.9L673 322.3L664.8 317.6L656.6 312.7L648.2 307.7L639.7 302.6L631 297.3L622.3 291.8L613.4 286.2L604.3 280.4L595.1 274.4L585.8 268.3L576.3 261.9L566.7 255.2L556.9 248.3L546.9 241.2L536.7 233.7L526.3 226L515.7 217.9L504.9 209.4L493.8 200.5L482.6 191.1L471 181.2L459.2 170.8L447.2 159.8L434.8 148L422.1 135.4L422.1 136.4L434.8 149L447.2 160.8L459.2 171.8L471 182.2L482.6 192.1L493.8 201.5L504.9 210.4L515.7 218.9L526.3 227L536.7 234.7L546.9 242.2L556.9 249.3L566.7 256.2L576.3 262.9L585.8 269.3L595.1 275.4L604.3 281.4L613.4 287.2L622.3 292.8L631 298.3L639.7 303.6L648.2 308.7L656.6 313.7L664.8 318.6L673 323.3L681.1 327.9L689 332.4L696.9 336.8L704.6 341.1ZM421.6 135.9L408.5 122.4L395.2 107.8L381.4 91.9L367.3 74.5L368.3 74.5L382.4 91.9L396.2 107.8L409.5 122.4L422.6 135.9ZM698.7 307.7L689.8 302.6L680.7 297.3L671.5 291.8L662.2 286.2L652.7 280.4L643.1 274.4L633.3 268.3L623.3 261.9L613.2 255.2L602.9 248.3L592.4 241.2L581.7 233.7L570.7 226L559.6 217.9L548.2 209.4L536.6 200.5L524.7 191.1L512.5 181.2L500 170.8L487.2 159.8L474.1 148L460.6 135.4L446.8 121.9L446.8 122.9L460.6 136.4L474.1 149L487.2 160.8L500 171.8L512.5 182.2L524.7 192.1L536.6 201.5L548.2 210.4L559.6 218.9L570.7 227L581.7 234.7L592.4 242.2L602.9 249.3L613.2 256.2L623.3 262.9L633.3 269.3L643.1 275.4L652.7 281.4L662.2 287.2L671.5 292.8L680.7 298.3L689.8 303.6L698.7 308.7ZM446.3 122.4L432.1 107.8L417.4 91.9L402.3 74.5L403.3 74.5L418.4 91.9L433.1 107.8L447.3 122.4ZM701.1 280.4L691.1 274.4L680.8 268.3L670.4 261.9L659.7 255.2L648.9 248.3L637.9 241.2L626.6 233.7L615.2 226L603.5 217.9L591.5 209.4L579.3 200.5L566.7 191.1L553.9 181.2L540.8 170.8L527.3 159.8L513.4 148L499.2 135.4L484.6 121.9L469.5 107.3L469.5 108.3L484.6 122.9L499.2 136.4L513.4 149L527.3 160.8L540.8 171.8L553.9 182.2L566.7 192.1L579.3 201.5L591.5 210.4L603.5 218.9L615.2 227L626.6 234.7L637.9 242.2L648.9 249.3L659.7 256.2L670.4 262.9L680.8 269.3L691.1 275.4L701.1 281.4ZM469 107.8L453.4 91.9L437.3 74.5L438.3 74.5L454.4 91.9L470 107.8ZM706.3 255.2L695 248.3L683.4 241.2L671.6 233.7L659.6 226L647.3 217.9L634.8 209.4L622 200.5L608.8 191.1L595.3 181.2L581.5 170.8L567.4 159.8L552.8 148L537.8 135.4L522.3 121.9L506.4 107.3L489.9 91.4L489.9 92.4L506.4 108.3L522.3 122.9L537.8 136.4L552.8 149L567.4 160.8L581.5 171.8L595.3 182.2L608.8 192.1L622 201.5L634.8 210.4L647.3 218.9L659.6 227L671.6 234.7L683.4 242.2L695 249.3L706.3 256.2ZM489.4 91.9L472.3 74.5L473.3 74.5L490.4 91.9ZM704.1 226L691.2 217.9L678.1 209.4L664.7 200.5L650.9 191.1L636.8 181.2L622.3 170.8L607.4 159.8L592.1 148L576.3 135.4L560.1 121.9L543.3 107.3L525.9 91.4L507.9 74L507.9 75L525.9 92.4L543.3 108.3L560.1 122.9L576.3 136.4L592.1 149L607.4 160.8L622.3 171.8L636.8 182.2L650.9 192.1L664.7 201.5L678.1 210.4L691.2 218.9L704.1 227ZM707.4 200.5L693 191.1L678.2 181.2L663.1 170.8L647.5 159.8L631.4 148L614.9 135.4L597.8 121.9L580.2 107.3L561.9 91.4L542.9 74L542.9 75L561.9 92.4L580.2 108.3L597.8 122.9L614.9 136.4L631.4 149L647.5 160.8L663.1 171.8L678.2 182.2L693 192.1L707.4 201.5ZM703.8 170.8L687.5 159.8L670.8 148L653.5 135.4L635.6 121.9L617.1 107.3L597.9 91.4L577.9 74L577.9 75L597.9 92.4L617.1 108.3L635.6 122.9L653.5 136.4L670.8 149L687.5 160.8L703.8 171.8ZM710.1 148L692 135.4L673.3 121.9L654 107.3L633.9 91.4L612.9 74L612.9 75L633.9 92.4L654 108.3L673.3 122.9L692 136.4L710.1 149ZM711.1 121.9L690.9 107.3L669.8 91.4L648 74L648 75L669.8 92.4L690.9 108.3L711.1 122.9ZM705.8 91.4L683 74L683 75L705.8 92.4Z"/>
<path fill="#00ff00" d="M230.9 495.9L236.3 500.3L236.3 501.3L230.9 496.9ZM219.5 486.7L224.9 491L224.9 492L219.5 487.7ZM207.7 476.9L213 481.3L213 482.3L207.7 477.9ZM292 495.9L297.2 500.3L297.2 501.3L292 496.9ZM281 486.7L286.3 491L286.3 492L281 487.7ZM269.3 476.9L274.6 481.3L274.6 482.3L269.3 477.9ZM256.8 466.6L262.2 471L262.2 472L256.8 467.6ZM243.7 455.7L249 460.1L249 461.1L243.7 456.7ZM229.8 444L235.5 448.9L235.5 449.9L229.8 445ZM243.1 455.2L243.7 455.7L243.7 456.7L243.1 456.2ZM228.6 443L229.8 444L229.8 445L228.6 444ZM347.8 495.9L353 500.8L353 501.8L347.8 496.9ZM337.8 486.7L343.1 491.5L343.1 492.5L337.8 487.7ZM326.9 476.9L332.4 481.8L332.4 482.8L326.9 477.9ZM315.1 466.6L320.7 471.5L320.7 472.5L315.1 467.6ZM302.3 455.7L307.6 460.1L307.6 461.1L302.3 456.7ZM288.6 444L294.3 448.9L294.3 449.9L288.6 445ZM301.7 455.2L302.3 455.7L302.3 456.7L301.7 456.2ZM273.8 431.6L279.1 436.1L279.1 437.1L273.8 432.6ZM287.4 443L288.6 444L288.6 445L287.4 444ZM258 418.3L263.9 423.2L263.9 424.2L258 419.3ZM271.5 429.6L273.8 431.6L273.8 432.6L271.5 430.6ZM254.5 415.3L258 418.3L258 419.3L254.5 416.3ZM396.4 496.4L401.2 501.8L402.2 501.8L397.4 496.4ZM387.8 487.2L392.8 492.5L393.8 492.5L388.8 487.2ZM378.3 477.4L383.6 482.8L384.6 482.8L379.3 477.4ZM368.3 466.6L373.9 472L373.9 473L368.3 467.6ZM356.7 455.7L362 460.6L362 461.6L356.7 456.7ZM343.8 444L349.2 448.9L349.2 449.9L343.8 445ZM329.7 431.6L335.4 436.6L335.4 437.6L329.7 432.6ZM343.3 443.5L343.8 444L343.8 445L343.3 444.5ZM314.2 418.3L320 423.2L320 424.2L314.2 419.3ZM327.4 429.6L329.7 431.6L329.7 432.6L327.4 430.6ZM297.4 403.9L303.2 408.9L303.2 409.9L297.4 404.9ZM310.7 415.3L314.2 418.3L314.2 419.3L310.7 416.3ZM279.2 388.3L284.9 393.2L284.9 394.2L279.2 389.3ZM292.3 399.5L297.4 403.9L297.4 404.9L292.3 400.5ZM438.5 496.4L442.4 501.8L443.4 501.8L439.5 496.4ZM431.5 487.2L435.6 492.5L436.6 492.5L432.5 487.2ZM423.6 477.4L428 482.8L429 482.8L424.6 477.4ZM414.8 467.1L419.5 472.5L420.5 472.5L415.8 467.1ZM404.8 456.2L409.9 461.6L410.9 461.6L405.8 456.2ZM393.5 444.5L398.8 449.9L399.8 449.9L394.5 444.5ZM381.3 431.6L386.9 437.1L386.9 438.1L381.3 432.6ZM366.9 418.3L372.3 423.2L372.3 424.2L366.9 419.3ZM380.2 430.6L381.3 431.6L381.3 432.6L380.2 431.6ZM350.9 403.9L356.5 408.9L356.5 409.9L350.9 404.9ZM364.2 415.8L366.9 418.3L366.9 419.3L364.2 416.8ZM333 388.3L338.6 393.2L338.6 394.2L333 389.3ZM346.4 400L350.9 403.9L350.9 404.9L346.4 401ZM313.3 371.2L318.9 376.1L318.9 377.1L313.3 372.2ZM326.8 382.9L332.4 387.8L332.4 388.8L326.8 383.9ZM305.3 364.3L311 369.3L311 370.3L305.3 365.3ZM474.2 496.4L477.3 501.8L478.3 501.8L475.2 496.4ZM468.7 487.2L471.9 492.5L472.9 492.5L469.7 487.2ZM462.4 477.4L465.9 482.8L466.9 482.8L463.4 477.4ZM455.2 467.1L459.1 472.5L460.1 472.5L456.2 467.1ZM447.1 456.2L451.2 461.6L452.2 461.6L448.1 456.2ZM437.7 444.5L442.1 449.9L443.1 449.9L438.7 444.5ZM426.8 432.1L431.7 437.6L432.7 437.6L427.8 432.1ZM414.3 418.8L419.5 424.2L420.5 424.2L415.3 418.8ZM400.3 403.9L405.9 409.4L405.9 410.4L400.3 404.9ZM413.3 417.8L414.3 418.8L415.3 418.8L414.3 417.8ZM383.7 388.3L389.5 393.7L389.5 394.7L383.7 389.3ZM396.8 400.5L400.3 403.9L400.3 404.9L396.8 401.5ZM364.8 371.2L370.8 376.6L370.8 377.6L364.8 372.2ZM377.8 382.9L383.7 388.3L383.7 389.3L377.8 383.9ZM343.4 352.4L349.6 357.9L349.6 358.9L343.4 353.4ZM356.9 364.3L362.5 369.3L362.5 370.3L356.9 365.3ZM333.2 343.4L338.8 348.4L338.8 349.4L333.2 344.4ZM504.6 496.4L506.9 501.8L507.9 501.8L505.6 496.4ZM500.2 487.2L502.8 492.5L503.8 492.5L501.2 487.2ZM495.3 477.4L498.1 482.8L499.1 482.8L496.3 477.4ZM489.7 467.1L492.7 472.5L493.7 472.5L490.7 467.1ZM483.2 456.2L486.6 461.6L487.6 461.6L484.2 456.2ZM475.7 444.5L479.2 449.9L480.2 449.9L476.7 444.5ZM466.9 432.1L470.8 437.6L471.8 437.6L467.9 432.1ZM456.4 418.8L460.8 424.2L461.8 424.2L457.4 418.8ZM444.1 404.4L449.4 410.4L450.4 410.4L445.1 404.4ZM455.6 417.8L456.4 418.8L457.4 418.8L456.6 417.8ZM429.5 388.8L435.1 394.7L436.1 394.7L430.5 388.8ZM441.9 402L444.1 404.4L445.1 404.4L442.9 402ZM412.8 371.2L418.8 377.1L418.8 378.1L412.8 372.2ZM425.7 384.9L429.5 388.8L430.5 388.8L426.7 384.9ZM392.5 352.4L398.5 357.9L398.5 358.9L392.5 353.4ZM406 364.8L411.7 370.3L411.7 371.3L406 365.8ZM369.2 331.4L375.3 336.9L375.3 337.9L369.2 332.4ZM382.6 343.4L388.7 348.9L388.7 349.9L382.6 344.4ZM342.6 307.7L348.6 313.1L348.6 314.1L342.6 308.7ZM355.8 319.6L361.9 325L361.9 326L355.8 320.6ZM530.5 496.4L532.3 501.8L533.3 501.8L531.5 496.4ZM527.2 487.2L529.1 492.5L530.1 492.5L528.2 487.2ZM523.4 477.4L525.5 482.8L526.5 482.8L524.4 477.4ZM519.1 467.1L521.4 472.5L522.4 472.5L520.1 467.1ZM514.1 456.2L516.6 461.6L517.6 461.6L515.1 456.2ZM508.2 444.5L510.9 449.9L511.9 449.9L509.2 444.5ZM501.2 432.1L504.4 437.6L505.4 437.6L502.2 432.1ZM492.9 418.8L496.4 424.2L497.4 424.2L493.9 418.8ZM482.8 404.4L487.1 410.4L488.1 410.4L483.8 404.4ZM492.2 417.8L492.9 418.8L493.9 418.8L493.2 417.8ZM470.6 388.8L475.3 394.7L476.3 394.7L471.6 388.8ZM481 402L482.8 404.4L483.8 404.4L482 402ZM455.7 371.7L461 377.6L462 377.6L456.7 371.7ZM467.4 384.9L470.6 388.8L471.6 388.8L468.4 384.9ZM437.6 352.9L443.5 358.9L444.5 358.9L438.6 352.9ZM450.7 366.3L455.7 371.7L456.7 371.7L451.7 366.3ZM416.2 331.4L422.1 336.9L422.1 337.9L416.2 332.4ZM429.4 343.9L435.6 349.9L435.6 350.9L429.4 344.9ZM390.2 307.7L396.3 313.1L396.3 314.1L390.2 308.7ZM403.3 319.6L409.8 325.5L409.8 326.5L403.3 320.6ZM373.2 292.3L379.8 298.3L379.8 299.3L373.2 293.3ZM386.9 304.7L390.2 307.7L390.2 308.7L386.9 305.7ZM552.8 496.4L554.2 501.8L555.2 501.8L553.8 496.4ZM550.4 487.2L551.8 492.5L552.8 492.5L551.4 487.2ZM547.5 477.4L549.1 482.8L550.1 482.8L548.5 477.4ZM544.3 467.1L546 472.5L547 472.5L545.3 467.1ZM540.4 456.2L542.4 461.6L543.4 461.6L541.4 456.2ZM535.9 444.5L538.1 449.9L539.1 449.9L536.9 444.5ZM530.6 432.1L533 437.6L534 437.6L531.6 432.1ZM524.1 418.8L526.8 424.2L527.8 424.2L525.1 418.8ZM516.1 404.4L519.5 410.4L520.5 410.4L517.1 404.4ZM523.5 417.8L524.1 418.8L525.1 418.8L524.5 417.8ZM506.3 388.8L510.2 394.7L511.2 394.7L507.3 388.8ZM514.7 402L516.1 404.4L517.1 404.4L515.7 402ZM494.1 371.7L498.5 377.6L499.5 377.6L495.1 371.7ZM503.7 384.9L506.3 388.8L507.3 388.8L504.7 384.9ZM478.7 352.9L483.8 358.9L484.8 358.9L479.7 352.9ZM489.8 366.3L494.1 371.7L495.1 371.7L490.8 366.3ZM459.3 331.9L465 337.9L466 337.9L460.3 331.9ZM472 345.4L477.4 351.4L478.4 351.4L473 345.4ZM435.5 307.7L441.8 313.6L441.8 314.6L435.5 308.7ZM448.9 320.6L454.9 326.5L454.9 327.5L448.9 321.6ZM406 280.4L412 285.9L412 286.9L406 281.4ZM419.5 292.8L425.5 298.3L425.5 299.3L419.5 293.8ZM432.4 304.7L435.5 307.7L435.5 308.7L432.4 305.7ZM384.4 260.7L390.9 266.6L390.9 267.6L384.4 261.7ZM397.9 273L403.8 278.4L403.8 279.4L397.9 274ZM572.3 496.4L573.3 501.8L574.3 501.8L573.3 496.4ZM570.5 487.2L571.6 492.5L572.6 492.5L571.5 487.2ZM568.5 477.4L569.6 482.8L570.6 482.8L569.5 477.4ZM566 467.1L567.3 472.5L568.3 472.5L567 467.1ZM563.2 456.2L564.7 461.6L565.7 461.6L564.2 456.2ZM559.8 444.5L561.4 449.9L562.4 449.9L560.8 444.5ZM555.8 432.1L557.6 437.6L558.6 437.6L556.8 432.1ZM550.8 418.8L552.9 424.2L553.9 424.2L551.8 418.8ZM544.7 404.4L547.4 410.4L548.4 410.4L545.7 404.4ZM550.4 417.8L550.8 418.8L551.8 418.8L551.4 417.8ZM537.1 388.8L540.1 394.7L541.1 394.7L538.1 388.8ZM543.6 402L544.7 404.4L545.7 404.4L544.6 402ZM527.3 371.7L530.8 377.6L531.8 377.6L528.3 371.7ZM535 384.9L537.1 388.8L538.1 388.8L536 384.9ZM514.8 352.9L519 358.9L520 358.9L515.8 352.9ZM523.9 366.3L527.3 371.7L528.3 371.7L524.9 366.3ZM498.4 331.9L503.3 337.9L504.3 337.9L499.4 331.9ZM509.2 345.4L513.7 351.4L514.7 351.4L510.2 345.4ZM477 308.2L482.6 314.1L483.6 314.1L478 308.2ZM489.4 321.5L494.6 327.5L495.6 327.5L490.4 321.5ZM449.8 280.4L456 286.4L456 287.4L449.8 281.4ZM463.2 293.3L469.2 299.3L469.2 300.3L463.2 294.3ZM476 307.2L477 308.2L478 308.2L477 307.2ZM415.3 248.3L421.7 254.3L421.7 255.3L415.3 249.3ZM428.7 260.7L435.1 266.6L435.1 267.6L428.7 261.7ZM441.9 273L448.2 278.9L448.2 279.9L441.9 274ZM414.2 247.3L415.3 248.3L415.3 249.3L414.2 248.3ZM589.5 496.4L590.2 501.8L591.2 501.8L590.5 496.4ZM588.2 487.2L589 492.5L590 492.5L589.2 487.2ZM586.8 477.4L587.6 482.8L588.6 482.8L587.8 477.4ZM585 467.1L586 472.5L587 472.5L586 467.1ZM583 456.2L584.1 461.6L585.1 461.6L584 456.2ZM580.6 444.5L581.7 449.9L582.7 449.9L581.6 444.5ZM577.6 432.1L578.9 437.6L579.9 437.6L578.6 432.1ZM573.9 418.8L575.5 424.2L576.5 424.2L574.9 418.8ZM569.3 404.4L571.3 410.4L572.3 410.4L570.3 404.4ZM573.6 417.8L573.9 418.8L574.9 418.8L574.6 417.8ZM563.5 388.8L565.8 394.7L566.8 394.7L564.5 388.8ZM568.5 402L569.3 404.4L570.3 404.4L569.5 402ZM556 371.7L558.7 377.6L559.7 377.6L557 371.7ZM561.9 384.9L563.5 388.8L564.5 388.8L562.9 384.9ZM546.1 352.9L549.4 358.9L550.4 358.9L547.1 352.9ZM553.3 366.3L556 371.7L557 371.7L554.3 366.3ZM532.8 331.9L536.9 337.9L537.9 337.9L533.8 331.9ZM541.6 345.4L545.2 351.4L546.2 351.4L542.6 345.4ZM514.7 308.2L519.6 314.1L520.6 314.1L515.7 308.2ZM525.3 321.5L529.7 327.5L530.7 327.5L526.3 321.5ZM490.1 280.9L496.3 287.4L497.3 287.4L491.1 280.9ZM502.7 294.3L508 300.3L509 300.3L503.7 294.3ZM514.3 307.7L514.7 308.2L515.7 308.2L515.3 307.7ZM457.9 248.3L464.1 254.3L464.1 255.3L457.9 249.3ZM471.3 261.2L477.4 267.1L477.4 268.1L471.3 262.2ZM483.8 274.5L490.1 280.9L491.1 280.9L484.8 274.5ZM429.6 221.9L436 227.8L436 228.8L429.6 222.9ZM443 234.3L449.4 240.3L449.4 241.3L443 235.3ZM456.3 246.8L457.9 248.3L457.9 249.3L456.3 247.8ZM604.7 496.4L605.2 501.8L606.2 501.8L605.7 496.4ZM603.9 487.2L604.4 492.5L605.4 492.5L604.9 487.2ZM603 477.4L603.5 482.8L604.5 482.8L604 477.4ZM601.8 467.1L602.4 472.5L603.4 472.5L602.8 467.1ZM600.4 456.2L601.1 461.6L602.1 461.6L601.4 456.2ZM598.7 444.5L599.5 449.9L600.5 449.9L599.7 444.5ZM596.6 432.1L597.6 437.6L598.6 437.6L597.6 432.1ZM594 418.8L595.1 424.2L596.1 424.2L595 418.8ZM590.7 404.4L592.1 410.4L593.1 410.4L591.7 404.4ZM593.8 417.8L594 418.8L595 418.8L594.8 417.8ZM586.4 388.8L588.1 394.7L589.1 394.7L587.4 388.8ZM590.1 402L590.7 404.4L591.7 404.4L591.1 402ZM580.7 371.7L582.8 377.6L583.8 377.6L581.7 371.7ZM585.2 384.9L586.4 388.8L587.4 388.8L586.2 384.9ZM573.1 352.9L575.7 358.9L576.7 358.9L574.1 352.9ZM578.7 366.3L580.7 371.7L581.7 371.7L579.7 366.3ZM562.7 331.9L565.9 337.9L566.9 337.9L563.7 331.9ZM569.7 345.4L572.5 351.4L573.5 351.4L570.7 345.4ZM548.1 308.2L552 314.1L553 314.1L549.1 308.2ZM556.7 321.5L560.2 327.5L561.2 327.5L557.7 321.5ZM527.2 280.9L532.5 287.4L533.5 287.4L528.2 280.9ZM538 294.3L542.5 300.3L543.5 300.3L539 294.3ZM547.7 307.7L548.1 308.2L549.1 308.2L548.7 307.7ZM497.6 248.8L503.9 255.2L504.9 255.2L498.6 248.8ZM510.4 262.2L516.4 268.6L517.4 268.6L511.4 262.2ZM522.5 275.5L527.2 280.9L528.2 280.9L523.5 275.5ZM457.6 209.4L464 215.4L464 216.4L457.6 210.4ZM470.8 221.9L477.6 228.3L477.6 229.3L470.8 222.9ZM484.4 234.8L490.5 240.8L490.5 241.8L484.4 235.8ZM497.1 248.3L497.6 248.8L498.6 248.8L498.1 248.3ZM446.1 198.4L452.9 204.9L452.9 205.9L446.1 199.4ZM618.4 496.4L618.6 501.8L619.6 501.8L619.4 496.4ZM618 487.2L618.2 492.5L619.2 492.5L619 487.2ZM617.4 477.4L617.7 482.8L618.7 482.8L618.4 477.4ZM616.7 467.1L617.1 472.5L618.1 472.5L617.7 467.1ZM615.9 456.2L616.3 461.6L617.3 461.6L616.9 456.2ZM614.8 444.5L615.3 449.9L616.3 449.9L615.8 444.5ZM613.4 432.1L614.1 437.6L615.1 437.6L614.4 432.1ZM611.7 418.8L612.4 424.2L613.4 424.2L612.7 418.8ZM609.4 404.4L610.4 410.4L611.4 410.4L610.4 404.4ZM611.5 417.8L611.7 418.8L612.7 418.8L612.5 417.8ZM606.3 388.8L607.5 394.7L608.5 394.7L607.3 388.8ZM608.9 402L609.4 404.4L610.4 404.4L609.9 402ZM602.2 371.7L603.7 377.6L604.7 377.6L603.2 371.7ZM605.4 384.9L606.3 388.8L607.3 388.8L606.4 384.9ZM596.6 352.9L598.5 358.9L599.5 358.9L597.6 352.9ZM600.7 366.3L602.2 371.7L603.2 371.7L601.7 366.3ZM588.6 331.9L591.1 337.9L592.1 337.9L589.6 331.9ZM593.9 345.4L596.1 351.4L597.1 351.4L594.9 345.4ZM577.2 308.2L580.3 314.1L581.3 314.1L578.2 308.2ZM584 321.5L586.7 327.5L587.7 327.5L585 321.5ZM560.1 280.9L564.6 287.4L565.6 287.4L561.1 280.9ZM569 294.3L572.7 300.3L573.7 300.3L570 294.3ZM576.9 307.7L577.2 308.2L578.2 308.2L577.9 307.7ZM534.5 248.8L540.1 255.2L541.1 255.2L535.5 248.8ZM545.9 262.2L551 268.6L552 268.6L546.9 262.2ZM556.2 275.5L560.1 280.9L561.1 280.9L557.2 275.5ZM497.3 209.4L503.9 215.9L503.9 216.9L497.3 210.4ZM510 222.9L516.4 229.3L517.4 229.3L511 222.9ZM523.1 236.3L529.1 242.8L530.1 242.8L524.1 236.3ZM472.5 185.5L479.2 192L479.2 193L472.5 186.5ZM485.5 198L492.2 204.4L492.2 205.4L485.5 199ZM630.7 496.4L630.8 501.8L631.8 501.8L631.7 496.4ZM630.6 487.2L630.7 492.5L631.7 492.5L631.6 487.2ZM630.4 477.4L630.5 482.8L631.5 482.8L631.4 477.4ZM630.1 467.1L630.3 472.5L631.3 472.5L631.1 467.1ZM629.7 456.2L629.9 461.6L630.9 461.6L630.7 456.2ZM629.1 444.5L629.4 449.9L630.4 449.9L630.1 444.5ZM628.4 432.1L628.7 437.6L629.7 437.6L629.4 432.1ZM627.3 418.8L627.8 424.2L628.8 424.2L628.3 418.8ZM625.8 404.4L626.5 410.4L627.5 410.4L626.8 404.4ZM627.2 417.8L627.3 418.8L628.3 418.8L628.2 417.8ZM623.8 388.8L624.6 394.7L625.6 394.7L624.8 388.8ZM625.5 402L625.8 404.4L626.8 404.4L626.5 402ZM621 371.7L622 377.6L623 377.6L622 371.7ZM623.2 384.9L623.8 388.8L624.8 388.8L624.2 384.9ZM617 352.9L618.3 358.9L619.3 358.9L618 352.9ZM619.9 366.3L621 371.7L622 371.7L620.9 366.3ZM611.1 331.9L612.9 337.9L613.9 337.9L612.1 331.9ZM615 345.4L616.6 351.4L617.6 351.4L616 345.4ZM602.4 308.2L604.8 314.1L605.8 314.1L603.4 308.2ZM607.6 321.5L609.7 327.5L610.7 327.5L608.6 321.5ZM589 280.9L592.5 287.4L593.5 287.4L590 280.9ZM596.1 294.3L598.9 300.3L599.9 300.3L597.1 294.3ZM602.2 307.7L602.4 308.2L603.4 308.2L603.2 307.7ZM567.8 248.8L572.6 255.2L573.6 255.2L568.8 248.8ZM577.4 262.2L581.6 268.6L582.6 268.6L578.4 262.2ZM585.9 275.5L589 280.9L590 280.9L586.9 275.5ZM534.2 209.9L540.3 216.4L541.3 216.4L535.2 209.9ZM546.7 223.4L552.4 229.8L553.4 229.8L547.7 223.4ZM557.9 236.3L563.2 242.8L564.2 242.8L558.9 236.3ZM484.3 159.8L491 166.2L491 167.2L484.3 160.8ZM497.7 172.6L504.3 179.1L504.3 180.1L497.7 173.6ZM511 185.5L517.5 192L517.5 193L511 186.5ZM523.5 198.9L530.3 205.9L531.3 205.9L524.5 198.9ZM481.7 157.3L484.3 159.8L484.3 160.8L481.7 158.3ZM641.9 496.4L641.9 501.8L642.9 501.8L642.9 496.4ZM642.1 487.2L642 492.5L643 492.5L643.1 487.2ZM642.1 477.4L642.1 482.8L643.1 482.8L643.1 477.4ZM642.2 467.1L642.2 472.5L643.2 472.5L643.2 467.1ZM642.1 456.2L642.2 461.6L643.2 461.6L643.1 456.2ZM642 444.5L642.1 449.9L643.1 449.9L643 444.5ZM641.7 432.1L641.9 437.6L642.9 437.6L642.7 432.1ZM641.3 418.8L641.5 424.2L642.5 424.2L642.3 418.8ZM640.5 404.4L640.8 410.4L641.8 410.4L641.5 404.4ZM641.2 417.8L641.3 418.8L642.3 418.8L642.2 417.8ZM639.3 388.8L639.8 394.7L640.8 394.7L640.3 388.8ZM640.3 402L640.5 404.4L641.5 404.4L641.3 402ZM637.5 371.7L638.2 377.6L639.2 377.6L638.5 371.7ZM639 384.9L639.3 388.8L640.3 388.8L640 384.9ZM634.9 352.9L635.8 358.9L636.8 358.9L635.9 352.9ZM636.9 366.3L637.5 371.7L638.5 371.7L637.9 366.3ZM630.8 331.9L632.1 337.9L633.1 337.9L631.8 331.9ZM633.5 345.4L634.6 351.4L635.6 351.4L634.5 345.4ZM624.4 308.2L626.2 314.1L627.2 314.1L625.4 308.2ZM628.2 321.5L629.7 327.5L630.7 327.5L629.2 321.5ZM614.2 280.9L616.9 287.4L617.9 287.4L615.2 280.9ZM619.6 294.3L621.8 300.3L622.8 300.3L620.6 294.3ZM624.2 307.7L624.4 308.2L625.4 308.2L625.2 307.7ZM597.3 248.8L601.1 255.2L602.1 255.2L598.3 248.8ZM605 262.2L608.4 268.6L609.4 268.6L606 262.2ZM611.7 275.5L614.2 280.9L615.2 280.9L612.7 275.5ZM568.5 209.9L574 216.4L575 216.4L569.5 209.9ZM579.5 223.4L584.4 229.8L585.4 229.8L580.5 223.4ZM589.1 236.3L593.5 242.8L594.5 242.8L590.1 236.3ZM521.7 159.8L528.3 166.2L528.3 167.2L521.7 160.8ZM534.7 173.6L541.1 180.1L542.1 180.1L535.7 173.6ZM547.4 186.5L553.9 193.5L554.9 193.5L548.4 186.5ZM559.8 199.9L566 206.9L567 206.9L560.8 199.9ZM505.9 144.3L512.5 150.8L512.5 151.8L505.9 145.3ZM519.2 157.3L521.7 159.8L521.7 160.8L519.2 158.3ZM652.2 496.4L652 501.8L653 501.8L653.2 496.4ZM652.5 487.2L652.3 492.5L653.3 492.5L653.5 487.2ZM652.9 477.4L652.7 482.8L653.7 482.8L653.9 477.4ZM653.2 467.1L653 472.5L654 472.5L654.2 467.1ZM653.4 456.2L653.3 461.6L654.3 461.6L654.4 456.2ZM653.7 444.5L653.6 449.9L654.6 449.9L654.7 444.5ZM653.8 432.1L653.8 437.6L654.8 437.6L654.8 432.1ZM653.8 418.8L653.8 424.2L654.8 424.2L654.8 418.8ZM653.6 404.4L653.7 410.4L654.7 410.4L654.6 404.4ZM653.8 417.8L653.8 418.8L654.8 418.8L654.8 417.8ZM653.2 388.8L653.4 394.7L654.4 394.7L654.2 388.8ZM653.6 402L653.6 404.4L654.6 404.4L654.6 402ZM652.3 371.7L652.6 377.6L653.6 377.6L653.3 371.7ZM653 384.9L653.2 388.8L654.2 388.8L654 384.9ZM650.7 352.9L651.3 358.9L652.3 358.9L651.7 352.9ZM651.9 366.3L652.3 371.7L653.3 371.7L652.9 366.3ZM648 331.9L648.9 337.9L649.9 337.9L649 331.9ZM649.9 345.4L650.5 351.4L651.5 351.4L650.9 345.4ZM643.6 308.2L644.9 314.1L645.9 314.1L644.6 308.2ZM646.3 321.5L647.3 327.5L648.3 327.5L647.3 321.5ZM636.1 280.9L638.2 287.4L639.2 287.4L637.1 280.9ZM640.2 294.3L641.7 300.3L642.7 300.3L641.2 294.3ZM643.5 307.7L643.6 308.2L644.6 308.2L644.5 307.7ZM623.1 248.8L626.1 255.2L627.1 255.2L624.1 248.8ZM629.1 262.2L631.7 268.6L632.7 268.6L630.1 262.2ZM634.3 275.5L636.1 280.9L637.1 280.9L635.3 275.5ZM599.5 209.9L604.1 216.4L605.1 216.4L600.5 209.9ZM608.7 223.4L612.8 229.8L613.8 229.8L609.7 223.4ZM616.5 236.3L620.1 242.8L621.1 242.8L617.5 236.3ZM556.9 160.3L563.5 167.2L564.5 167.2L557.9 160.3ZM569.5 173.6L575.4 180.1L576.4 180.1L570.5 173.6ZM581.5 187L586.9 193.5L587.9 193.5L582.5 187ZM592 199.9L597.3 206.9L598.3 206.9L593 199.9ZM515.3 117.8L522.3 124.8L522.3 125.8L515.3 118.8ZM528.4 130.8L535.5 137.8L535.5 138.8L528.4 131.8ZM541.6 144.8L548.5 151.8L549.5 151.8L542.6 144.8ZM554.4 157.8L556.9 160.3L557.9 160.3L555.4 157.8ZM661.6 496.4L661.3 501.8L662.3 501.8L662.6 496.4ZM662.1 487.2L661.8 492.5L662.8 492.5L663.1 487.2ZM662.7 477.4L662.4 482.8L663.4 482.8L663.7 477.4ZM663.2 467.1L662.9 472.5L663.9 472.5L664.2 467.1ZM663.8 456.2L663.5 461.6L664.5 461.6L664.8 456.2ZM664.3 444.5L664.1 449.9L665.1 449.9L665.3 444.5ZM664.8 432.1L664.6 437.6L665.6 437.6L665.8 432.1ZM665.2 418.8L665.1 424.2L666.1 424.2L666.2 418.8ZM665.5 404.4L665.4 410.4L666.4 410.4L666.5 404.4ZM665.2 417.8L665.2 418.8L666.2 418.8L666.2 417.8ZM665.7 388.8L665.6 394.7L666.6 394.7L666.7 388.8ZM665.6 402L665.5 404.4L666.5 404.4L666.6 402ZM665.5 371.7L665.6 377.6L666.6 377.6L666.5 371.7ZM665.6 384.9L665.7 388.8L666.7 388.8L666.6 384.9ZM664.8 352.9L665.1 358.9L666.1 358.9L665.8 352.9ZM665.3 366.3L665.5 371.7L666.5 371.7L666.3 366.3ZM663.4 331.9L663.9 337.9L664.9 337.9L664.4 331.9ZM664.4 345.4L664.7 351.4L665.7 351.4L665.4 345.4ZM660.6 308.2L661.4 314.1L662.4 314.1L661.6 308.2ZM662.3 321.5L662.9 327.5L663.9 327.5L663.3 321.5ZM655.4 280.9L656.8 287.4L657.8 287.4L656.4 280.9ZM658.2 294.3L659.3 300.3L660.3 300.3L659.2 294.3ZM660.5 307.7L660.6 308.2L661.6 308.2L661.5 307.7ZM645.7 248.8L648 255.2L649 255.2L646.7 248.8ZM650.3 262.2L652.2 268.6L653.2 268.6L651.3 262.2ZM654 275.5L655.4 280.9L656.4 280.9L655 275.5ZM627 209.9L630.8 216.4L631.8 216.4L628 209.9ZM634.5 223.4L637.7 229.8L638.7 229.8L635.5 223.4ZM640.6 236.3L643.4 242.8L644.4 242.8L641.6 236.3ZM590.2 160.3L596.2 167.2L597.2 167.2L591.2 160.3ZM601.5 173.6L606.7 180.1L607.7 180.1L602.5 173.6ZM611.9 187L616.5 193.5L617.5 193.5L612.9 187ZM620.9 199.9L625.3 206.9L626.3 206.9L621.9 199.9ZM537.5 104.9L544 111.3L544 112.3L537.5 105.9ZM550 118.3L557 125.3L558 125.3L551 118.3ZM563.4 131.8L570.2 138.8L571.2 138.8L564.4 131.8ZM576 144.8L582.5 151.8L583.5 151.8L577 144.8ZM588.4 158.3L590.2 160.3L591.2 160.3L589.4 158.3ZM670.3 496.4L669.8 501.8L670.8 501.8L671.3 496.4ZM671 487.2L670.5 492.5L671.5 492.5L672 487.2ZM671.7 477.4L671.3 482.8L672.3 482.8L672.7 477.4ZM672.4 467.1L672 472.5L673 472.5L673.4 467.1ZM673.2 456.2L672.8 461.6L673.8 461.6L674.2 456.2ZM674 444.5L673.7 449.9L674.7 449.9L675 444.5ZM674.8 432.1L674.5 437.6L675.5 437.6L675.8 432.1ZM675.6 418.8L675.3 424.2L676.3 424.2L676.6 418.8ZM676.3 404.4L676 410.4L677 410.4L677.3 404.4ZM675.6 417.8L675.6 418.8L676.6 418.8L676.6 417.8ZM677 388.8L676.7 394.7L677.7 394.7L678 388.8ZM676.4 402L676.3 404.4L677.3 404.4L677.4 402ZM677.4 371.7L677.3 377.6L678.3 377.6L678.4 371.7ZM677.1 384.9L677 388.8L678 388.8L678.1 384.9ZM677.5 352.9L677.5 358.9L678.5 358.9L678.5 352.9ZM677.5 366.3L677.4 371.7L678.4 371.7L678.5 366.3ZM677.1 331.9L677.3 337.9L678.3 337.9L678.1 331.9ZM677.4 345.4L677.5 351.4L678.5 351.4L678.4 345.4ZM675.6 308.2L676.1 314.1L677.1 314.1L676.6 308.2ZM676.6 321.5L676.9 327.5L677.9 327.5L677.6 321.5ZM672.3 280.9L673.3 287.4L674.3 287.4L673.3 280.9ZM674.2 294.3L674.9 300.3L675.9 300.3L675.2 294.3ZM675.6 307.7L675.6 308.2L676.6 308.2L676.6 307.7ZM665.5 248.8L667.2 255.2L668.2 255.2L666.5 248.8ZM668.8 262.2L670.1 268.6L671.1 268.6L669.8 262.2ZM671.4 275.5L672.3 280.9L673.3 280.9L672.4 275.5ZM651.3 209.9L654.2 216.4L655.2 216.4L652.3 209.9ZM657.1 223.4L659.5 229.8L660.5 229.8L658.1 223.4ZM661.7 236.3L663.8 242.8L664.8 242.8L662.7 236.3ZM620.6 160.3L625.8 167.2L626.8 167.2L621.6 160.3ZM630.4 173.6L634.7 180.1L635.7 180.1L631.4 173.6ZM639.1 187L642.8 193.5L643.8 193.5L640.1 187ZM646.4 199.9L649.9 206.9L650.9 206.9L647.4 199.9ZM557.7 91.9L564.7 98.9L565.7 98.9L558.7 91.9ZM571.1 105.4L578 112.3L579 112.3L572.1 105.4ZM583.8 118.3L590.4 125.3L591.4 125.3L584.8 118.3ZM596.5 131.8L602.8 138.8L603.8 138.8L597.5 131.8ZM608.4 145.3L614.3 152.3L615.3 152.3L609.4 145.3ZM619.1 158.3L620.6 160.3L621.6 160.3L620.1 158.3ZM553.8 87.9L557.7 91.9L558.7 91.9L554.8 87.9ZM678.3 496.4L677.8 501.8L678.8 501.8L679.3 496.4ZM679.1 487.2L678.6 492.5L679.6 492.5L680.1 487.2ZM680 477.4L679.5 482.8L680.5 482.8L681 477.4ZM681 467.1L680.5 472.5L681.5 472.5L682 467.1ZM681.9 456.2L681.4 461.6L682.4 461.6L682.9 456.2ZM683 444.5L682.5 449.9L683.5 449.9L684 444.5ZM684 432.1L683.6 437.6L684.6 437.6L685 432.1ZM685.1 418.8L684.7 424.2L685.7 424.2L686.1 418.8ZM686.2 404.4L685.8 410.4L686.8 410.4L687.2 404.4ZM685.2 417.8L685.1 418.8L686.1 418.8L686.2 417.8ZM687.3 388.8L686.9 394.7L687.9 394.7L688.3 388.8ZM686.4 402L686.2 404.4L687.2 404.4L687.4 402ZM688.2 371.7L687.9 377.6L688.9 377.6L689.2 371.7ZM687.5 384.9L687.3 388.8L688.3 388.8L688.5 384.9ZM689 352.9L688.8 358.9L689.8 358.9L690 352.9ZM688.5 366.3L688.2 371.7L689.2 371.7L689.5 366.3ZM689.4 331.9L689.3 337.9L690.3 337.9L690.4 331.9ZM689.2 345.4L689 351.4L690 351.4L690.2 345.4ZM689.1 308.2L689.2 314.1L690.2 314.1L690.1 308.2ZM689.4 321.5L689.4 327.5L690.4 327.5L690.4 321.5ZM687.4 280.9L687.9 287.4L688.9 287.4L688.4 280.9ZM688.4 294.3L688.8 300.3L689.8 300.3L689.4 294.3ZM689.1 307.7L689.1 308.2L690.1 308.2L690.1 307.7ZM683 248.8L684.1 255.2L685.1 255.2L684 248.8ZM685.2 262.2L686.1 268.6L687.1 268.6L686.2 262.2ZM686.9 275.5L687.4 280.9L688.4 280.9L687.9 275.5ZM672.6 209.9L674.8 216.4L675.8 216.4L673.6 209.9ZM676.9 223.4L678.7 229.8L679.7 229.8L677.9 223.4ZM680.3 236.3L681.8 242.8L682.8 242.8L681.3 236.3ZM648 160.3L652.3 167.2L653.3 167.2L649 160.3ZM656.1 173.6L659.6 180.1L660.6 180.1L657.1 173.6ZM663.1 187L666 193.5L667 193.5L664.1 187ZM668.8 199.9L671.5 206.9L672.5 206.9L669.8 199.9ZM590.8 91.9L597.6 98.9L598.6 98.9L591.8 91.9ZM603.7 105.4L610.2 112.3L611.2 112.3L604.7 105.4ZM615.6 118.3L621.7 125.3L622.7 125.3L616.6 118.3ZM627.1 131.8L632.7 138.8L633.7 138.8L628.1 131.8ZM637.6 145.3L642.6 152.3L643.6 152.3L638.6 145.3ZM646.7 158.3L648 160.3L649 160.3L647.7 158.3ZM573.7 74.5L581.1 81.9L582.1 81.9L574.7 74.5ZM587 87.9L590.8 91.9L591.8 91.9L588 87.9ZM685.8 496.4L685.2 501.8L686.2 501.8L686.8 496.4ZM686.7 487.2L686.2 492.5L687.2 492.5L687.7 487.2ZM687.8 477.4L687.2 482.8L688.2 482.8L688.8 477.4ZM688.9 467.1L688.3 472.5L689.3 472.5L689.9 467.1ZM690 456.2L689.4 461.6L690.4 461.6L691 456.2ZM691.2 444.5L690.7 449.9L691.7 449.9L692.2 444.5ZM692.5 432.1L692 437.6L693 437.6L693.5 432.1ZM693.9 418.8L693.3 424.2L694.3 424.2L694.9 418.8ZM695.3 404.4L694.7 410.4L695.7 410.4L696.3 404.4ZM694 417.8L693.9 418.8L694.9 418.8L695 417.8ZM696.7 388.8L696.2 394.7L697.2 394.7L697.7 388.8ZM695.5 402L695.3 404.4L696.3 404.4L696.5 402ZM697 384.9L696.7 388.8L697.7 388.8L698 384.9ZM691.3 209.9L692.9 216.4L693.9 216.4L692.3 209.9ZM694.4 223.4L695.7 229.8L696.7 229.8L695.4 223.4ZM696.7 236.3L697.7 242.8L698.7 242.8L697.7 236.3ZM672.4 160.3L675.8 167.2L676.8 167.2L673.4 160.3ZM678.8 173.6L681.5 180.1L682.5 180.1L679.8 173.6ZM684.2 187L686.5 193.5L687.5 193.5L685.2 187ZM688.5 199.9L690.5 206.9L691.5 206.9L689.5 199.9ZM622.3 91.9L628.6 98.9L629.6 98.9L623.3 91.9ZM634.3 105.4L640.1 112.3L641.1 112.3L635.3 105.4ZM644.9 118.3L650.3 125.3L651.3 125.3L645.9 118.3ZM654.9 131.8L659.7 138.8L660.7 138.8L655.9 131.8ZM663.8 145.3L668 152.3L669 152.3L664.8 145.3ZM671.3 158.3L672.4 160.3L673.4 160.3L672.3 158.3ZM605.9 74.5L613 81.9L614 81.9L606.9 74.5ZM618.6 87.9L622.3 91.9L623.3 91.9L619.6 87.9ZM692.7 496.4L692.1 501.8L693.1 501.8L693.7 496.4ZM693.8 487.2L693.2 492.5L694.2 492.5L694.8 487.2ZM695 477.4L694.3 482.8L695.3 482.8L696 477.4ZM696.2 467.1L695.6 472.5L696.6 472.5L697.2 467.1ZM697.5 456.2L696.9 461.6L697.9 461.6L698.5 456.2ZM693.9 160.3L696.6 167.2L697.6 167.2L694.9 160.3ZM651.7 91.9L657.3 98.9L658.3 98.9L652.7 91.9ZM662.3 105.4L667.4 112.3L668.4 112.3L663.3 105.4ZM671.5 118.3L676 125.3L677 125.3L672.5 118.3ZM679.9 131.8L683.8 138.8L684.8 138.8L680.9 131.8ZM687.2 145.3L690.5 152.3L691.5 152.3L688.2 145.3ZM693.1 158.3L693.9 160.3L694.9 160.3L694.1 158.3ZM636.6 74.5L643.2 81.9L644.2 81.9L637.6 74.5ZM648.4 87.9L651.7 91.9L652.7 91.9L649.4 87.9ZM678.6 91.9L683.5 98.9L684.5 98.9L679.6 91.9ZM687.7 105.4L692 112.3L693 112.3L688.7 105.4ZM695.4 118.3L699 125.3L700 125.3L696.4 118.3ZM665.2 74.5L671.2 81.9L672.2 81.9L666.2 74.5ZM675.7 87.9L678.6 91.9L679.6 91.9L676.7 87.9ZM691.5 74.5L696.6 81.9L697.6 81.9L692.5 74.5Z"/>
<path fill="#5500aa" d="M527.8 74.9L521 82.3L522 82.3L528.8 74.9ZM515.5 88.4L508.7 95.7L509.7 95.7L516.5 88.4ZM503.1 101.8L496.5 109.1L497.5 109.1L504.1 101.8ZM490.8 115.3L484.3 122.5L485.3 122.5L491.8 115.3ZM478.6 128.8L472.1 135.9L473.1 135.9L479.6 128.8ZM466.3 142.2L459.9 149.3L460.9 149.3L467.3 142.2ZM454.1 155.7L447.7 162.8L448.7 162.8L455.1 155.7ZM441.9 169.2L435.6 176.2L436.6 176.2L442.9 169.2ZM429.7 182.7L423.5 189.6L424.5 189.6L430.7 182.7ZM417.6 196.1L411.4 203L412.4 203L418.6 196.1ZM405.5 209.6L399.3 216.4L400.3 216.4L406.5 209.6ZM393.3 223.1L387.3 229.8L388.3 229.8L394.3 223.1ZM381.3 236.5L375.3 243.2L376.3 243.2L382.3 236.5ZM369.2 250L363.3 256.6L364.3 256.6L370.2 250ZM357.2 263.5L351.3 270L352.3 270L358.2 263.5ZM345.2 277L339.4 283.5L340.4 283.5L346.2 277ZM333.2 290.4L327.5 296.9L328.5 296.9L334.2 290.4ZM321.3 303.9L315.6 310.3L316.6 310.3L322.3 303.9ZM309.3 317.4L303.7 323.7L304.7 323.7L310.3 317.4ZM297.4 330.8L291.9 337.1L292.9 337.1L298.4 330.8ZM285.6 344.3L280.1 350.5L281.1 350.5L286.6 344.3ZM273.7 357.8L268.3 363.9L269.3 363.9L274.7 357.8ZM261.9 371.2L256.6 377.3L257.6 377.3L262.9 371.2ZM250.1 384.7L244.9 390.7L245.9 390.7L251.1 384.7ZM238.4 398.2L233.2 404.1L234.2 404.1L239.4 398.2ZM226.6 411.6L221.5 417.6L222.5 417.6L227.6 411.6ZM214.9 425.1L209.9 431L210.9 431L215.9 425.1ZM203.3 438.6L198.2 444.4L199.2 444.4L204.3 438.6ZM192.2 451.3L187.3 457.1L188.3 457.1L193.2 451.3ZM181.2 464.1L176.4 469.8L177.4 469.8L182.2 464.1ZM170.3 476.8L165.5 482.5L166.5 482.5L171.3 476.8ZM159.3 489.6L154.6 495.2L155.6 495.2L160.3 489.6ZM148.4 502.3L147 504L148 504L149.4 502.3ZM565.7 74.9L559 82.3L560 82.3L566.7 74.9ZM553.5 88.4L546.9 95.7L547.9 95.7L554.5 88.4ZM541.4 101.8L534.9 109.1L535.9 109.1L542.4 101.8ZM529.4 115.3L522.9 122.5L523.9 122.5L530.4 115.3ZM517.3 128.8L510.9 135.9L511.9 135.9L518.3 128.8ZM505.3 142.2L499 149.3L500 149.3L506.3 142.2ZM493.3 155.7L487.1 162.8L488.1 162.8L494.3 155.7ZM481.4 169.2L475.2 176.2L476.2 176.2L482.4 169.2ZM469.4 182.7L463.3 189.6L464.3 189.6L470.4 182.7ZM457.5 196.1L451.4 203L452.4 203L458.5 196.1ZM445.6 209.6L439.6 216.4L440.6 216.4L446.6 209.6ZM433.8 223.1L427.8 229.8L428.8 229.8L434.8 223.1ZM421.9 236.5L416.1 243.2L417.1 243.2L422.9 236.5ZM410.1 250L404.3 256.6L405.3 256.6L411.1 250ZM398.3 263.5L392.6 270L393.6 270L399.3 263.5ZM386.6 277L380.9 283.5L381.9 283.5L387.6 277ZM374.9 290.4L369.3 296.9L370.3 296.9L375.9 290.4ZM363.2 303.9L357.7 310.3L358.7 310.3L364.2 303.9ZM351.5 317.4L346.1 323.7L347.1 323.7L352.5 317.4ZM339.9 330.8L334.5 337.1L335.5 337.1L340.9 330.8ZM328.3 344.3L323 350.5L324 350.5L329.3 344.3ZM316.7 357.8L311.5 363.9L312.5 363.9L317.7 357.8ZM305.2 371.2L300 377.3L301 377.3L306.2 371.2ZM293.7 384.7L288.5 390.7L289.5 390.7L294.7 384.7ZM282.2 398.2L277.1 404.1L278.1 404.1L283.2 398.2ZM270.8 411.6L265.8 417.6L266.8 417.6L271.8 411.6ZM259.4 425.1L254.4 431L255.4 431L260.4 425.1ZM248 438.6L243.1 444.4L244.1 444.4L249 438.6ZM237.2 451.3L232.4 457.1L233.4 457.1L238.2 451.3ZM226.5 464.1L221.8 469.8L222.8 469.8L227.5 464.1ZM215.9 476.8L211.2 482.5L212.2 482.5L216.9 476.8ZM205.2 489.6L200.6 495.2L201.6 495.2L206.2 489.6ZM194.6 502.3L193.2 504L194.2 504L195.6 502.3ZM619 74.9L612.6 82.3L613.6 82.3L620 74.9ZM607.2 88.4L600.8 95.7L601.8 95.7L608.2 88.4ZM595.5 101.8L589.1 109.1L590.1 109.1L596.5 101.8ZM583.7 115.3L577.5 122.5L578.5 122.5L584.7 115.3ZM572 128.8L565.8 135.9L566.8 135.9L573 128.8ZM560.4 142.2L554.2 149.3L555.2 149.3L561.4 142.2ZM548.7 155.7L542.6 162.8L543.6 162.8L549.7 155.7ZM537.1 169.2L531.1 176.2L532.1 176.2L538.1 169.2ZM525.5 182.7L519.6 189.6L520.6 189.6L526.5 182.7ZM513.9 196.1L508.1 203L509.1 203L514.9 196.1ZM502.4 209.6L496.6 216.4L497.6 216.4L503.4 209.6ZM490.9 223.1L485.2 229.8L486.2 229.8L491.9 223.1ZM479.5 236.5L473.8 243.2L474.8 243.2L480.5 236.5ZM468 250L462.4 256.6L463.4 256.6L469 250ZM456.6 263.5L451.1 270L452.1 270L457.6 263.5ZM445.3 277L439.8 283.5L440.8 283.5L446.3 277ZM433.9 290.4L428.5 296.9L429.5 296.9L434.9 290.4ZM422.7 303.9L417.3 310.3L418.3 310.3L423.7 303.9ZM411.4 317.4L406.1 323.7L407.1 323.7L412.4 317.4ZM400.2 330.8L395 337.1L396 337.1L401.2 330.8ZM389 344.3L383.8 350.5L384.8 350.5L390 344.3ZM377.8 357.8L372.7 363.9L373.7 363.9L378.8 357.8ZM366.7 371.2L361.7 377.3L362.7 377.3L367.7 371.2ZM355.6 384.7L350.7 390.7L351.7 390.7L356.6 384.7ZM344.6 398.2L339.7 404.1L340.7 404.1L345.6 398.2ZM333.6 411.6L328.7 417.6L329.7 417.6L334.6 411.6ZM322.6 425.1L317.8 431L318.8 431L323.6 425.1ZM311.7 438.6L307 444.4L308 444.4L312.7 438.6ZM301.4 451.3L296.7 457.1L297.7 457.1L302.4 451.3ZM291.1 464.1L286.5 469.8L287.5 469.8L292.1 464.1ZM280.8 476.8L276.3 482.5L277.3 482.5L281.8 476.8ZM270.6 489.6L266.2 495.2L267.2 495.2L271.6 489.6ZM260.5 502.3L259.1 504L260.1 504L261.5 502.3ZM662.2 74.9L655.9 82.3L656.9 82.3L663.2 74.9ZM650.7 88.4L644.4 95.7L645.4 95.7L651.7 88.4ZM639.2 101.8L633 109.1L634 109.1L640.2 101.8ZM627.8 115.3L621.7 122.5L622.7 122.5L628.8 115.3ZM616.4 128.8L610.3 135.9L611.3 135.9L617.4 128.8ZM605 142.2L599 149.3L600 149.3L606 142.2ZM593.6 155.7L587.7 162.8L588.7 162.8L594.6 155.7ZM582.3 169.2L576.5 176.2L577.5 176.2L583.3 169.2ZM571 182.7L565.2 189.6L566.2 189.6L572 182.7ZM559.8 196.1L554.1 203L555.1 203L560.8 196.1ZM548.6 209.6L542.9 216.4L543.9 216.4L549.6 209.6ZM537.4 223.1L531.8 229.8L532.8 229.8L538.4 223.1ZM526.2 236.5L520.7 243.2L521.7 243.2L527.2 236.5ZM515.1 250L509.7 256.6L510.7 256.6L516.1 250ZM504.1 263.5L498.7 270L499.7 270L505.1 263.5ZM493 277L487.7 283.5L488.7 283.5L494 277ZM482 290.4L476.8 296.9L477.8 296.9L483 290.4ZM471.1 303.9L465.9 310.3L466.9 310.3L472.1 303.9ZM460.2 317.4L455.1 323.7L456.1 323.7L461.2 317.4ZM449.3 330.8L444.2 337.1L445.2 337.1L450.3 330.8ZM438.5 344.3L433.5 350.5L434.5 350.5L439.5 344.3ZM427.7 357.8L422.7 363.9L423.7 363.9L428.7 357.8ZM416.9 371.2L412.1 377.3L413.1 377.3L417.9 371.2ZM406.2 384.7L401.4 390.7L402.4 390.7L407.2 384.7ZM395.5 398.2L390.8 404.1L391.8 404.1L396.5 398.2ZM384.9 411.6L380.2 417.6L381.2 417.6L385.9 411.6ZM374.3 425.1L369.7 431L370.7 431L375.3 425.1ZM363.7 438.6L359.2 444.4L360.2 444.4L364.7 438.6ZM353.8 451.3L349.3 457.1L350.3 457.1L354.8 451.3ZM343.9 464.1L339.5 469.8L340.5 469.8L344.9 464.1ZM334 476.8L329.7 482.5L330.7 482.5L335 476.8ZM324.2 489.6L319.9 495.2L320.9 495.2L325.2 489.6ZM314.4 502.3L313.2 504L314.2 504L315.4 502.3ZM688.7 74.9L682.5 82.3L683.5 82.3L689.7 74.9ZM677.4 88.4L671.2 95.7L672.2 95.7L678.4 88.4ZM666.1 101.8L660 109.1L661 109.1L667.1 101.8ZM654.8 115.3L648.8 122.5L649.8 122.5L655.8 115.3ZM643.6 128.8L637.6 135.9L638.6 135.9L644.6 128.8ZM632.4 142.2L626.5 149.3L627.5 149.3L633.4 142.2ZM621.2 155.7L615.4 162.8L616.4 162.8L622.2 155.7ZM610.1 169.2L604.4 176.2L605.4 176.2L611.1 169.2ZM599 182.7L593.3 189.6L594.3 189.6L600 182.7ZM588 196.1L582.4 203L583.4 203L589 196.1ZM577 209.6L571.4 216.4L572.4 216.4L578 209.6ZM566 223.1L560.5 229.8L561.5 229.8L567 223.1ZM555 236.5L549.6 243.2L550.6 243.2L556 236.5ZM544.1 250L538.8 256.6L539.8 256.6L545.1 250ZM533.3 263.5L528 270L529 270L534.3 263.5ZM522.5 277L517.3 283.5L518.3 283.5L523.5 277ZM511.7 290.4L506.5 296.9L507.5 296.9L512.7 290.4ZM501 303.9L495.9 310.3L496.9 310.3L502 303.9ZM490.3 317.4L485.2 323.7L486.2 323.7L491.3 317.4ZM479.6 330.8L474.7 337.1L475.7 337.1L480.6 330.8ZM469 344.3L464.1 350.5L465.1 350.5L470 344.3ZM458.4 357.8L453.6 363.9L454.6 363.9L459.4 357.8ZM447.9 371.2L443.2 377.3L444.2 377.3L448.9 371.2ZM437.4 384.7L432.7 390.7L433.7 390.7L438.4 384.7ZM427 398.2L422.4 404.1L423.4 404.1L428 398.2ZM416.6 411.6L412 417.6L413 417.6L417.6 411.6ZM406.2 425.1L401.8 431L402.8 431L407.2 425.1ZM395.9 438.6L391.5 444.4L392.5 444.4L396.9 438.6ZM386.2 451.3L381.9 457.1L382.9 457.1L387.2 451.3ZM376.6 464.1L372.3 469.8L373.3 469.8L377.6 464.1ZM367 476.8L362.7 482.5L363.7 482.5L368 476.8ZM357.4 489.6L353.2 495.2L354.2 495.2L358.4 489.6ZM347.9 502.3L346.6 504L347.6 504L348.9 502.3ZM696.7 88.6L690.7 95.9L691.7 95.9L697.7 88.6ZM685.6 102L679.6 109.3L680.6 109.3L686.6 102ZM674.5 115.5L668.5 122.7L669.5 122.7L675.5 115.5ZM663.4 129L657.5 136.1L658.5 136.1L664.4 129ZM652.3 142.4L646.5 149.5L647.5 149.5L653.3 142.4ZM641.3 155.9L635.5 163L636.5 163L642.3 155.9ZM630.3 169.4L624.6 176.4L625.6 176.4L631.3 169.4ZM619.4 182.9L613.8 189.8L614.8 189.8L620.4 182.9ZM608.5 196.3L602.9 203.2L603.9 203.2L609.5 196.3ZM597.6 209.8L592.1 216.6L593.1 216.6L598.6 209.8ZM586.8 223.3L581.4 230L582.4 230L587.8 223.3ZM576 236.7L570.7 243.4L571.7 243.4L577 236.7ZM565.3 250.2L560 256.8L561 256.8L566.3 250.2ZM554.6 263.7L549.4 270.2L550.4 270.2L555.6 263.7ZM543.9 277.2L538.8 283.7L539.8 283.7L544.9 277.2ZM533.3 290.6L528.2 297.1L529.2 297.1L534.3 290.6ZM522.7 304.1L517.7 310.5L518.7 310.5L523.7 304.1ZM512.2 317.6L507.3 323.9L508.3 323.9L513.2 317.6ZM501.7 331L496.8 337.3L497.8 337.3L502.7 331ZM491.3 344.5L486.5 350.7L487.5 350.7L492.3 344.5ZM480.9 358L476.1 364.1L477.1 364.1L481.9 358ZM470.5 371.4L465.9 377.5L466.9 377.5L471.5 371.4ZM460.2 384.9L455.6 390.9L456.6 390.9L461.2 384.9ZM450 398.4L445.4 404.3L446.4 404.3L451 398.4ZM439.7 411.8L435.3 417.8L436.3 417.8L440.7 411.8ZM429.6 425.3L425.2 431.2L426.2 431.2L430.6 425.3ZM419.5 438.8L415.1 444.6L416.1 444.6L420.5 438.8ZM409.9 451.5L405.7 457.3L406.7 457.3L410.9 451.5ZM400.5 464.3L396.3 470L397.3 470L401.5 464.3ZM391 477L386.9 482.7L387.9 482.7L392 477ZM381.6 489.8L377.6 495.4L378.6 495.4L382.6 489.8ZM372.3 502.5L371.2 504L372.2 504L373.3 502.5ZM695.8 124.8L690 132L691 132L696.8 124.8ZM684.9 138.2L679.2 145.4L680.2 145.4L685.9 138.2ZM674.1 151.7L668.5 158.8L669.5 158.8L675.1 151.7ZM663.3 165.2L657.7 172.2L658.7 172.2L664.3 165.2ZM652.6 178.7L647.1 185.6L648.1 185.6L653.6 178.7ZM641.9 192.1L636.5 199L637.5 199L642.9 192.1ZM631.2 205.6L625.9 212.4L626.9 212.4L632.2 205.6ZM620.6 219.1L615.3 225.8L616.3 225.8L621.6 219.1ZM610.1 232.5L604.8 239.2L605.8 239.2L611.1 232.5ZM599.6 246L594.4 252.7L595.4 252.7L600.6 246ZM589.1 259.5L584 266.1L585 266.1L590.1 259.5ZM578.6 273L573.6 279.5L574.6 279.5L579.6 273ZM568.3 286.4L563.3 292.9L564.3 292.9L569.3 286.4ZM557.9 299.9L553 306.3L554 306.3L558.9 299.9ZM547.6 313.4L542.8 319.7L543.8 319.7L548.6 313.4ZM537.4 326.8L532.6 333.1L533.6 333.1L538.4 326.8ZM527.2 340.3L522.5 346.5L523.5 346.5L528.2 340.3ZM517 353.8L512.4 359.9L513.4 359.9L518 353.8ZM506.9 367.2L502.3 373.3L503.3 373.3L507.9 367.2ZM496.9 380.7L492.4 386.8L493.4 386.8L497.9 380.7ZM486.8 394.2L482.4 400.2L483.4 400.2L487.8 394.2ZM476.9 407.6L472.5 413.6L473.5 413.6L477.9 407.6ZM467 421.1L462.7 427L463.7 427L468 421.1ZM457.1 434.6L452.9 440.4L453.9 440.4L458.1 434.6ZM447.9 447.3L443.7 453.1L444.7 453.1L448.9 447.3ZM438.6 460.1L434.5 465.8L435.5 465.8L439.6 460.1ZM429.5 472.8L425.4 478.5L426.4 478.5L430.5 472.8ZM420.3 485.6L416.4 491.2L417.4 491.2L421.3 485.6ZM411.3 498.3L407.3 503.9L408.3 503.9L412.3 498.3ZM700.4 145.7L694.8 152.7L695.8 152.7L701.4 145.7ZM689.8 159.1L684.3 166.1L685.3 166.1L690.8 159.1ZM679.2 172.6L673.8 179.6L674.8 179.6L680.2 172.6ZM668.7 186.1L663.3 193L664.3 193L669.7 186.1ZM658.2 199.5L652.8 206.4L653.8 206.4L659.2 199.5ZM647.7 213L642.5 219.8L643.5 219.8L648.7 213ZM637.3 226.5L632.1 233.2L633.1 233.2L638.3 226.5ZM626.9 239.9L621.8 246.6L622.8 246.6L627.9 239.9ZM616.6 253.4L611.6 260L612.6 260L617.6 253.4ZM606.3 266.9L601.3 273.4L602.3 273.4L607.3 266.9ZM596.1 280.4L591.2 286.8L592.2 286.8L597.1 280.4ZM585.9 293.8L581.1 300.2L582.1 300.2L586.9 293.8ZM575.8 307.3L571 313.7L572 313.7L576.8 307.3ZM565.7 320.8L561 327.1L562 327.1L566.7 320.8ZM555.7 334.2L551 340.5L552 340.5L556.7 334.2ZM545.7 347.7L541.1 353.9L542.1 353.9L546.7 347.7ZM535.8 361.2L531.3 367.3L532.3 367.3L536.8 361.2ZM525.9 374.6L521.4 380.7L522.4 380.7L526.9 374.6ZM516 388.1L511.7 394.1L512.7 394.1L517 388.1ZM506.3 401.6L502 407.5L503 407.5L507.3 401.6ZM496.6 415L492.3 420.9L493.3 420.9L497.6 415ZM486.9 428.5L482.7 434.4L483.7 434.4L487.9 428.5ZM477.3 442L473.2 447.8L474.2 447.8L478.3 442ZM468.2 454.7L464.2 460.5L465.2 460.5L469.2 454.7ZM459.2 467.5L455.3 473.1L456.3 473.1L460.2 467.5ZM450.3 480.2L446.4 485.8L447.4 485.8L451.3 480.2ZM441.4 493L437.6 498.5L438.6 498.5L442.4 493ZM695.6 192.7L690.4 199.6L691.4 199.6L696.6 192.7ZM685.4 206.2L680.2 213L681.2 213L686.4 206.2ZM675.2 219.7L670.1 226.4L671.1 226.4L676.2 219.7ZM665 233.1L660 239.8L661 239.8L666 233.1ZM654.9 246.6L650 253.2L651 253.2L655.9 246.6ZM644.9 260.1L640 266.7L641 266.7L645.9 260.1ZM634.9 273.6L630.1 280.1L631.1 280.1L635.9 273.6ZM625 287L620.2 293.5L621.2 293.5L626 287ZM615.1 300.5L610.4 306.9L611.4 306.9L616.1 300.5ZM605.3 314L600.7 320.3L601.7 320.3L606.3 314ZM595.5 327.4L591 333.7L592 333.7L596.5 327.4ZM585.8 340.9L581.3 347.1L582.3 347.1L586.8 340.9ZM576.1 354.4L571.7 360.5L572.7 360.5L577.1 354.4ZM566.5 367.8L562.2 373.9L563.2 373.9L567.5 367.8ZM556.9 381.3L552.7 387.4L553.7 387.4L557.9 381.3ZM547.4 394.8L543.2 400.8L544.2 400.8L548.4 394.8ZM538 408.2L533.9 414.2L534.9 414.2L539 408.2ZM528.6 421.7L524.5 427.6L525.5 427.6L529.6 421.7ZM519.3 435.2L515.3 441L516.3 441L520.3 435.2ZM510.5 447.9L506.6 453.7L507.6 453.7L511.5 447.9ZM501.8 460.7L497.9 466.4L498.9 466.4L502.8 460.7ZM493.1 473.4L489.3 479.1L490.3 479.1L494.1 473.4ZM484.5 486.2L480.8 491.8L481.8 491.8L485.5 486.2ZM476 498.9L472.6 504L473.6 504L477 498.9ZM699.4 219.3L694.4 226L695.4 226L700.4 219.3ZM689.5 232.7L684.5 239.4L685.5 239.4L690.5 232.7ZM679.6 246.2L674.7 252.8L675.7 252.8L680.6 246.2ZM669.7 259.7L664.9 266.3L665.9 266.3L670.7 259.7ZM659.9 273.2L655.2 279.7L656.2 279.7L660.9 273.2ZM650.2 286.6L645.6 293.1L646.6 293.1L651.2 286.6ZM640.5 300.1L635.9 306.5L636.9 306.5L641.5 300.1ZM630.9 313.6L626.4 319.9L627.4 319.9L631.9 313.6ZM621.3 327L616.9 333.3L617.9 333.3L622.3 327ZM611.8 340.5L607.5 346.7L608.5 346.7L612.8 340.5ZM602.4 354L598.1 360.1L599.1 360.1L603.4 354ZM593 367.4L588.7 373.5L589.7 373.5L594 367.4ZM583.6 380.9L579.5 387L580.5 387L584.6 380.9ZM574.4 394.4L570.3 400.4L571.3 400.4L575.4 394.4ZM565.1 407.8L561.1 413.8L562.1 413.8L566.1 407.8ZM556 421.3L552 427.2L553 427.2L557 421.3ZM546.9 434.8L543 440.6L544 440.6L547.9 434.8ZM538.4 447.5L534.5 453.3L535.5 453.3L539.4 447.5ZM529.9 460.3L526.1 466L527.1 466L530.9 460.3ZM521.4 473L517.7 478.7L518.7 478.7L522.4 473ZM513.1 485.8L509.4 491.4L510.4 491.4L514.1 485.8ZM504.7 498.5L501.2 504L502.2 504L505.7 498.5ZM692.3 255.4L687.6 262L688.6 262L693.3 255.4ZM682.6 268.9L678 275.4L679 275.4L683.6 268.9ZM673.1 282.4L668.5 288.8L669.5 288.8L674.1 282.4ZM663.5 295.8L659 302.2L660 302.2L664.5 295.8ZM654.1 309.3L649.6 315.7L650.6 315.7L655.1 309.3ZM644.6 322.8L640.3 329.1L641.3 329.1L645.6 322.8ZM635.3 336.2L631 342.5L632 342.5L636.3 336.2ZM626 349.7L621.7 355.9L622.7 355.9L627 349.7ZM616.7 363.2L612.6 369.3L613.6 369.3L617.7 363.2ZM607.6 376.6L603.5 382.7L604.5 382.7L608.6 376.6ZM598.5 390.1L594.4 396.1L595.4 396.1L599.5 390.1ZM589.4 403.6L585.4 409.5L586.4 409.5L590.4 403.6ZM580.4 417L576.5 422.9L577.5 422.9L581.4 417ZM571.5 430.5L567.7 436.3L568.7 436.3L572.5 430.5ZM562.6 444L558.9 449.8L559.9 449.8L563.6 444ZM554.3 456.7L550.6 462.4L551.6 462.4L555.3 456.7ZM546 469.5L542.4 475.1L543.4 475.1L547 469.5ZM537.8 482.2L534.3 487.8L535.3 487.8L538.8 482.2ZM529.7 495L526.2 500.5L527.2 500.5L530.7 495ZM694.3 275.6L689.7 282.1L690.7 282.1L695.3 275.6ZM684.9 289L680.4 295.5L681.4 295.5L685.9 289ZM675.5 302.5L671.1 308.9L672.1 308.9L676.5 302.5ZM666.2 316L661.9 322.3L662.9 322.3L667.2 316ZM657 329.4L652.7 335.7L653.7 335.7L658 329.4ZM647.8 342.9L643.6 349.1L644.6 349.1L648.8 342.9ZM638.7 356.4L634.5 362.5L635.5 362.5L639.7 356.4ZM629.6 369.8L625.5 375.9L626.5 375.9L630.6 369.8ZM620.6 383.3L616.6 389.3L617.6 389.3L621.6 383.3ZM611.7 396.8L607.7 402.8L608.7 402.8L612.7 396.8ZM602.8 410.2L599 416.2L600 416.2L603.8 410.2ZM594 423.7L590.2 429.6L591.2 429.6L595 423.7ZM585.3 437.2L581.6 443L582.6 443L586.3 437.2ZM577.1 449.9L573.4 455.7L574.4 455.7L578.1 449.9ZM569 462.7L565.3 468.4L566.3 468.4L570 462.7ZM560.9 475.4L557.3 481.1L558.3 481.1L561.9 475.4ZM552.9 488.2L549.4 493.8L550.4 493.8L553.9 488.2ZM544.9 500.9L543 504L544 504L545.9 500.9ZM700.2 296.8L695.8 303.2L696.8 303.2L701.2 296.8ZM691 310.3L686.7 316.6L687.7 316.6L692 310.3ZM681.9 323.8L677.7 330.1L678.7 330.1L682.9 323.8ZM672.9 337.2L668.8 343.5L669.8 343.5L673.9 337.2ZM664 350.7L659.9 356.9L660.9 356.9L665 350.7ZM655.1 364.2L651 370.3L652 370.3L656.1 364.2ZM646.2 377.6L642.3 383.7L643.3 383.7L647.2 377.6ZM637.5 391.1L633.6 397.1L634.6 397.1L638.5 391.1ZM628.8 404.6L625 410.5L626 410.5L629.8 404.6ZM620.2 418L616.4 423.9L617.4 423.9L621.2 418ZM611.6 431.5L607.9 437.3L608.9 437.3L612.6 431.5ZM603.1 445L599.5 450.7L600.5 450.7L604.1 445ZM595.1 457.7L591.6 463.4L592.6 463.4L596.1 457.7ZM587.2 470.5L583.8 476.1L584.8 476.1L588.2 470.5ZM579.4 483.2L576 488.8L577 488.8L580.4 483.2ZM571.6 496L568.3 501.5L569.3 501.5L572.6 496ZM694.3 347.6L690.3 353.8L691.3 353.8L695.3 347.6ZM685.6 361.1L681.7 367.2L682.7 367.2L686.6 361.1ZM677 374.5L673.2 380.6L674.2 380.6L678 374.5ZM668.5 388L664.7 394L665.7 394L669.5 388ZM660.1 401.5L656.4 407.4L657.4 407.4L661.1 401.5ZM651.7 414.9L648.1 420.8L649.1 420.8L652.7 414.9ZM643.4 428.4L639.8 434.3L640.8 434.3L644.4 428.4ZM635.2 441.9L631.7 447.7L632.7 447.7L636.2 441.9ZM627.4 454.6L624 460.4L625 460.4L628.4 454.6ZM619.8 467.4L616.4 473L617.4 473L620.8 467.4ZM612.2 480.1L608.9 485.7L609.9 485.7L613.2 480.1ZM604.7 492.9L601.4 498.4L602.4 498.4L605.7 492.9ZM694.3 383.5L690.6 389.5L691.6 389.5L695.3 383.5ZM686.1 397L682.4 403L683.4 403L687.1 397ZM677.9 410.4L674.3 416.4L675.3 416.4L678.9 410.4ZM669.8 423.9L666.3 429.8L667.3 429.8L670.8 423.9ZM661.7 437.4L658.3 443.2L659.3 443.2L662.7 437.4ZM654.2 450.1L650.8 455.9L651.8 455.9L655.2 450.1ZM646.7 462.9L643.4 468.6L644.4 468.6L647.7 462.9ZM639.3 475.6L636.1 481.3L637.1 481.3L640.3 475.6ZM632 488.4L628.8 494L629.8 494L633 488.4ZM624.8 501.1L623.1 504L624.1 504L625.8 501.1ZM696.6 411.6L693.1 417.6L694.1 417.6L697.6 411.6ZM688.7 425.1L685.3 431L686.3 431L689.7 425.1ZM680.8 438.6L677.5 444.4L678.5 444.4L681.8 438.6ZM673.5 451.3L670.2 457.1L671.2 457.1L674.5 451.3ZM666.2 464.1L663 469.8L664 469.8L667.2 464.1ZM659 476.8L655.8 482.5L656.8 482.5L660 476.8ZM651.9 489.6L648.8 495.2L649.8 495.2L652.9 489.6ZM644.8 502.3L643.9 504L644.9 504L645.8 502.3ZM696.3 468.3L693.2 473.9L694.2 473.9L697.3 468.3ZM689.4 481L686.4 486.6L687.4 486.6L690.4 481ZM682.6 493.8L679.7 499.3L680.7 499.3L683.6 493.8Z"/>
<path fill="#000000" d="M87 74H697V75H87ZM87 200H697V201H87ZM87 274H697V275H87ZM87 327H697V328H87ZM87 368H697V369H87ZM87 401H697V402H87ZM87 429H697V430H87ZM87 453H697V454H87ZM87 475H697V476H87ZM87 494H697V495H87ZM87 503H697V504H87ZM87 74H88V504H87Z"/>
</g>
<g clip-path="url(#plot)" shape-rendering="crispEdges">
<path fill="#ff0000" d="M406.7 74L383.7 148L415.3 200.5L416.3 200.5L384.7 148L407.7 74ZM415.8 200L458.7 240.7L458.7 241.7L415.8 201ZM458.2 241.2L489.3 274.5L522.3 326.9L549.7 367.6L567.3 401L581.6 429L574.2 464.5L581.2 480.4L582.2 480.4L575.2 464.5L582.6 429L568.3 401L550.7 367.6L523.3 326.9L490.3 274.5L459.2 241.2ZM581.7 479.9L604.5 494.3L604.5 495.3L581.7 480.9ZM406.7 75L383.7 149L415.3 201.5L416.3 201.5L384.7 149L407.7 75ZM415.8 201L458.7 241.7L458.7 242.7L415.8 202ZM458.2 242.2L489.3 275.5L522.3 327.9L549.7 368.6L567.3 402L581.6 430L574.2 465.5L581.2 481.4L582.2 481.4L575.2 465.5L582.6 430L568.3 402L550.7 368.6L523.3 327.9L490.3 275.5L459.2 242.2ZM581.7 480.9L604.5 495.3L604.5 496.3L581.7 481.9ZM406 74h3v1h-3zM407 73h1v3h-1zM383 148h3v1h-3zM384 147h1v3h-1zM414 200h3v1h-3zM415 199h1v3h-1zM457 241h3v1h-3zM458 240h1v3h-1zM488 274h3v1h-3zM489 273h1v3h-1zM521 327h3v1h-3zM522 326h1v3h-1zM549 368h3v1h-3zM550 367h1v3h-1zM566 401h3v1h-3zM567 400h1v3h-1zM581 429h3v1h-3zM582 428h1v3h-1zM573 464h3v1h-3zM574 463h1v3h-1zM580 480h3v1h-3zM581 479h1v3h-1zM603 495h3v1h-3zM604 494h1v3h-1z"/>
<path fill="#0000ff" d="M363 74L354.7 148L352.6 200.5L361 241.2L376.8 274.5L381.4 326.9L353.7 367.6L343.6 401L344.6 401L354.7 367.6L382.4 326.9L377.8 274.5L362 241.2L353.6 200.5L355.7 148L364 74ZM344.1 400.5L416.3 428.5L520.7 464L577.5 479.6L600.8 494.3L600.8 495.3L577.5 480.6L520.7 465L416.3 429.5L344.1 401.5ZM363 75L354.7 149L352.6 201.5L361 242.2L376.8 275.5L381.4 327.9L353.7 368.6L343.6 402L344.6 402L354.7 368.6L382.4 327.9L377.8 275.5L362 242.2L353.6 201.5L355.7 149L364 75ZM344.1 401.5L416.3 429.5L520.7 465L577.5 480.6L600.8 495.3L600.8 496.3L577.5 481.6L520.7 466L416.3 430.5L344.1 402.5ZM362 74h3v1h-3zM363 73h1v3h-1zM354 148h3v1h-3zM355 147h1v3h-1zM352 200h3v1h-3zM353 199h1v3h-1zM360 241h3v1h-3zM361 240h1v3h-1zM376 274h3v1h-3zM377 273h1v3h-1zM380 327h3v1h-3zM381 326h1v3h-1zM353 368h3v1h-3zM354 367h1v3h-1zM343 401h3v1h-3zM344 400h1v3h-1zM415 429h3v1h-3zM416 428h1v3h-1zM519 464h3v1h-3zM520 463h1v3h-1zM576 480h3v1h-3zM577 479h1v3h-1zM599 495h3v1h-3zM600 494h1v3h-1z"/>
<path fill="#5500aa" d="M595.3 489H601V490H595.3ZM590.6 486H600.5V487H590.6ZM585.8 483H600.1V484H585.8ZM581.5 480H599.6V481H581.5ZM580.2 477H599.2V478H580.2ZM578.9 474H598.7V475H578.9ZM577.6 471H598.2V472H577.6ZM576.2 468H597.7V469H576.2ZM574.8 464H597V465H574.8ZM575.4 461H596.6V462H575.4ZM576.1 458H596.2V459H576.1ZM576.7 455H595.8V456H576.7ZM577.5 451H595.2V452H577.5ZM578.1 448H594.7V449H578.1ZM579 444H594.1V445H579ZM579.8 440H593.4V441H579.8ZM580.4 437H592.9V438H580.4ZM581.3 433H592.1V434H581.3ZM582.1 429H591.4V430H582.1ZM580.1 425H590.5V426H580.1ZM578 421H589.6V422H578ZM576 417H588.7V418H576ZM573.9 413H587.7V414H573.9ZM571.4 408H586.4V409H571.4ZM569.3 404H585.3V405H569.3ZM566.7 399H583.9V400H566.7ZM564.6 395H582.7V396H564.6ZM562 390H581.1V391H562ZM559.4 385H579.5V386H559.4ZM556.7 380H577.7V381H556.7ZM554.1 375H575.9V376H554.1ZM550.9 369H573.6V370H550.9ZM547.8 364H571.6V365H547.8ZM543.7 358H569.3V359H543.7ZM539.7 352H566.7V353H539.7ZM535.7 346H564V347H535.7ZM531.6 340H561.1V341H531.6ZM527.6 334H558.1V335H527.6ZM522.9 327H554.2V328H522.9ZM518.5 320H550V321H518.5ZM514 313H545.4V314H514ZM509 305H539.9V306H509ZM504 297H533.9V298H504ZM498.9 289H527.6V290H498.9ZM493.3 280H520.1V281H493.3ZM486.5 271H512.2V272H486.5ZM478.1 262H503.9V263H478.1ZM468.8 252H494.3V253H468.8ZM458.5 241H483.3V242H458.5ZM446.9 230H471.7V231H446.9ZM434.2 218H458.8V219H434.2ZM420.5 205H444.8V206H420.5ZM410.1 191H430.1V192H410.1ZM401.1 176H415V177H401.1Z"/>
<path fill="#5500aa" d="M325.2 74L331.8 82.9L338.3 91.4L344.8 99.5L351.1 107.3L357.4 114.7L363.6 121.9L369.7 128.8L375.7 135.4L381.6 141.8L387.5 148L393.1 154L398.6 159.8L404 165.4L409.3 170.8L414.6 176.1L415.6 176.1L410.3 170.8L405 165.4L399.6 159.8L394.1 154L388.5 148L382.6 141.8L376.7 135.4L370.7 128.8L364.6 121.9L358.4 114.7L352.1 107.3L345.8 99.5L339.3 91.4L332.8 82.9L326.2 74ZM415.1 175.6L420.2 180.7L425.3 185.7L430.2 190.6L435.1 195.3L439.9 200L444.7 204.5L449.5 208.9L454.1 213.2L458.6 217.4L463.1 221.5L467.4 225.5L471.6 229.4L475.6 233.2L479.6 237L483.5 240.7L487.1 244.3L487.1 245.3L483.5 241.7L479.6 238L475.6 234.2L471.6 230.4L467.4 226.5L463.1 222.5L458.6 218.4L454.1 214.2L449.5 209.9L444.7 205.5L439.9 201L435.1 196.3L430.2 191.6L425.3 186.7L420.2 181.7L415.1 176.6ZM486.6 244.8L490.2 248.3L493.6 251.8L496.9 255.2L500.1 258.6L503.3 261.9L506.3 265.1L509.2 268.3L512 271.4L514.7 274.4L517.4 277.5L520 280.4L522.4 283.3L524.8 286.2L527.2 289L529.4 291.8L531.6 294.6L533.7 297.3L535.7 299.9L537.6 302.6L539.5 305.2L541.3 307.7L543 310.2L544.7 312.7L546.4 315.1L547.9 317.6L549.4 320L550.9 322.3L552.3 324.6L553.7 326.9L555 329.2L556.2 331.4L557.4 333.6L558.5 335.8L559.6 338L560.7 340.1L561.7 342.2L562.7 344.3L563.7 346.4L564.6 348.4L565.5 350.4L566.4 352.4L567.3 354.4L568.1 356.3L568.9 358.3L569.6 360.2L570.4 362.1L571.1 364L571.8 365.8L572.5 367.6L573.2 369.5L574 371.2L574.6 373L575.3 374.8L576 376.5L576.6 378.3L577.2 380L577.8 381.7L578.4 383.4L579 385L579.6 386.7L580.1 388.3L580.6 389.9L581.1 391.5L581.6 393.1L582.1 394.7L582.6 396.3L583.1 397.8L583.5 399.4L584 400.9L584.4 402.4L584.8 403.9L585.2 405.4L585.6 406.9L586 408.3L586.4 409.8L586.8 411.2L587.1 412.7L587.5 414.1L587.8 415.5L588.2 416.9L588.5 418.3L588.8 419.7L589.1 421L589.4 422.4L589.7 423.7L590 425.1L590.3 426.4L590.6 427.7L590.9 429L591.1 430.3L591.4 431.6L591.6 432.9L591.9 434.2L592.1 435.4L592.3 436.7L592.5 437.9L592.8 439.2L593 440.4L593.2 441.6L593.4 442.8L593.6 444L593.8 445.2L594 446.4L594.2 447.6L594.3 448.8L594.5 449.9L594.7 451.1L594.9 452.2L595 453.4L595.2 454.5L595.4 455.7L595.5 456.8L595.7 457.9L595.8 459L596 460.1L596.1 461.2L596.3 462.3L596.4 463.4L596.6 464.4L596.8 465.5L596.9 466.6L597.1 467.6L597.3 468.7L597.5 469.7L597.6 470.8L597.8 471.8L598 472.8L598.2 473.9L598.3 474.9L598.5 475.9L598.6 476.9L598.8 477.9L598.9 478.9L599.1 479.9L599.3 480.9L599.4 481.8L599.5 482.8L599.7 483.8L599.8 484.7L600 485.7L600.1 486.7L600.2 487.6L600.4 488.5L600.5 489.5L600.7 490.4L600.8 491.3L600.9 492.3L601 493.2L601.2 494.1L601.3 495L602.3 495L602.2 494.1L602 493.2L601.9 492.3L601.8 491.3L601.7 490.4L601.5 489.5L601.4 488.5L601.2 487.6L601.1 486.7L601 485.7L600.8 484.7L600.7 483.8L600.5 482.8L600.4 481.8L600.3 480.9L600.1 479.9L599.9 478.9L599.8 477.9L599.6 476.9L599.5 475.9L599.3 474.9L599.2 473.9L599 472.8L598.8 471.8L598.6 470.8L598.5 469.7L598.3 468.7L598.1 467.6L597.9 466.6L597.8 465.5L597.6 464.4L597.4 463.4L597.3 462.3L597.1 461.2L597 460.1L596.8 459L596.7 457.9L596.5 456.8L596.4 455.7L596.2 454.5L596 453.4L595.9 452.2L595.7 451.1L595.5 449.9L595.3 448.8L595.2 447.6L595 446.4L594.8 445.2L594.6 444L594.4 442.8L594.2 441.6L594 440.4L593.8 439.2L593.5 437.9L593.3 436.7L593.1 435.4L592.9 434.2L592.6 432.9L592.4 431.6L592.1 430.3L591.9 429L591.6 427.7L591.3 426.4L591 425.1L590.7 423.7L590.4 422.4L590.1 421L589.8 419.7L589.5 418.3L589.2 416.9L588.8 415.5L588.5 414.1L588.1 412.7L587.8 411.2L587.4 409.8L587 408.3L586.6 406.9L586.2 405.4L585.8 403.9L585.4 402.4L585 400.9L584.5 399.4L584.1 397.8L583.6 396.3L583.1 394.7L582.6 393.1L582.1 391.5L581.6 389.9L581.1 388.3L580.6 386.7L580 385L579.4 383.4L578.8 381.7L578.2 380L577.6 378.3L577 376.5L576.3 374.8L575.6 373L575 371.2L574.2 369.5L573.5 367.6L572.8 365.8L572.1 364L571.4 362.1L570.6 360.2L569.9 358.3L569.1 356.3L568.3 354.4L567.4 352.4L566.5 350.4L565.6 348.4L564.7 346.4L563.7 344.3L562.7 342.2L561.7 340.1L560.6 338L559.5 335.8L558.4 333.6L557.2 331.4L556 329.2L554.7 326.9L553.3 324.6L551.9 322.3L550.4 320L548.9 317.6L547.4 315.1L545.7 312.7L544 310.2L542.3 307.7L540.5 305.2L538.6 302.6L536.7 299.9L534.7 297.3L532.6 294.6L530.4 291.8L528.2 289L525.8 286.2L523.4 283.3L521 280.4L518.4 277.5L515.7 274.4L513 271.4L510.2 268.3L507.3 265.1L504.3 261.9L501.1 258.6L497.9 255.2L494.6 251.8L491.2 248.3L487.6 244.8ZM325.2 75L331.8 83.9L338.3 92.4L344.8 100.5L351.1 108.3L357.4 115.7L363.6 122.9L369.7 129.8L375.7 136.4L381.6 142.8L387.5 149L393.1 155L398.6 160.8L404 166.4L409.3 171.8L414.6 177.1L415.6 177.1L410.3 171.8L405 166.4L399.6 160.8L394.1 155L388.5 149L382.6 142.8L376.7 136.4L370.7 129.8L364.6 122.9L358.4 115.7L352.1 108.3L345.8 100.5L339.3 92.4L332.8 83.9L326.2 75ZM415.1 176.6L420.2 181.7L425.3 186.7L430.2 191.6L435.1 196.3L439.9 201L444.7 205.5L449.5 209.9L454.1 214.2L458.6 218.4L463.1 222.5L467.4 226.5L471.6 230.4L475.6 234.2L479.6 238L483.5 241.7L487.1 245.3L487.1 246.3L483.5 242.7L479.6 239L475.6 235.2L471.6 231.4L467.4 227.5L463.1 223.5L458.6 219.4L454.1 215.2L449.5 210.9L444.7 206.5L439.9 202L435.1 197.3L430.2 192.6L425.3 187.7L420.2 182.7L415.1 177.6ZM486.6 245.8L490.2 249.3L493.6 252.8L496.9 256.2L500.1 259.6L503.3 262.9L506.3 266.1L509.2 269.3L512 272.4L514.7 275.4L517.4 278.5L520 281.4L522.4 284.3L524.8 287.2L527.2 290L529.4 292.8L531.6 295.6L533.7 298.3L535.7 300.9L537.6 303.6L539.5 306.2L541.3 308.7L543 311.2L544.7 313.7L546.4 316.1L547.9 318.6L549.4 321L550.9 323.3L552.3 325.6L553.7 327.9L555 330.2L556.2 332.4L557.4 334.6L558.5 336.8L559.6 339L560.7 341.1L561.7 343.2L562.7 345.3L563.7 347.4L564.6 349.4L565.5 351.4L566.4 353.4L567.3 355.4L568.1 357.3L568.9 359.3L569.6 361.2L570.4 363.1L571.1 365L571.8 366.8L572.5 368.6L573.2 370.5L574 372.2L574.6 374L575.3 375.8L576 377.5L576.6 379.3L577.2 381L577.8 382.7L578.4 384.4L579 386L579.6 387.7L580.1 389.3L580.6 390.9L581.1 392.5L581.6 394.1L582.1 395.7L582.6 397.3L583.1 398.8L583.5 400.4L584 401.9L584.4 403.4L584.8 404.9L585.2 406.4L585.6 407.9L586 409.3L586.4 410.8L586.8 412.2L587.1 413.7L587.5 415.1L587.8 416.5L588.2 417.9L588.5 419.3L588.8 420.7L589.1 422L589.4 423.4L589.7 424.7L590 426.1L590.3 427.4L590.6 428.7L590.9 430L591.1 431.3L591.4 432.6L591.6 433.9L591.9 435.2L592.1 436.4L592.3 437.7L592.5 438.9L592.8 440.2L593 441.4L593.2 442.6L593.4 443.8L593.6 445L593.8 446.2L594 447.4L594.2 448.6L594.3 449.8L594.5 450.9L594.7 452.1L594.9 453.2L595 454.4L595.2 455.5L595.4 456.7L595.5 457.8L595.7 458.9L595.8 460L596 461.1L596.1 462.2L596.3 463.3L596.4 464.4L596.6 465.4L596.8 466.5L596.9 467.6L597.1 468.6L597.3 469.7L597.5 470.7L597.6 471.8L597.8 472.8L598 473.8L598.2 474.9L598.3 475.9L598.5 476.9L598.6 477.9L598.8 478.9L598.9 479.9L599.1 480.9L599.3 481.9L599.4 482.8L599.5 483.8L599.7 484.8L599.8 485.7L600 486.7L600.1 487.7L600.2 488.6L600.4 489.5L600.5 490.5L600.7 491.4L600.8 492.3L600.9 493.3L601 494.2L601.2 495.1L601.3 496L602.3 496L602.2 495.1L602 494.2L601.9 493.3L601.8 492.3L601.7 491.4L601.5 490.5L601.4 489.5L601.2 488.6L601.1 487.7L601 486.7L600.8 485.7L600.7 484.8L600.5 483.8L600.4 482.8L600.3 481.9L600.1 480.9L599.9 479.9L599.8 478.9L599.6 477.9L599.5 476.9L599.3 475.9L599.2 474.9L599 473.8L598.8 472.8L598.6 471.8L598.5 470.7L598.3 469.7L598.1 468.6L597.9 467.6L597.8 466.5L597.6 465.4L597.4 464.4L597.3 463.3L597.1 462.2L597 461.1L596.8 460L596.7 458.9L596.5 457.8L596.4 456.7L596.2 455.5L596 454.4L595.9 453.2L595.7 452.1L595.5 450.9L595.3 449.8L595.2 448.6L595 447.4L594.8 446.2L594.6 445L594.4 443.8L594.2 442.6L594 441.4L593.8 440.2L593.5 438.9L593.3 437.7L593.1 436.4L592.9 435.2L592.6 433.9L592.4 432.6L592.1 431.3L591.9 430L591.6 428.7L591.3 427.4L591 426.1L590.7 424.7L590.4 423.4L590.1 422L589.8 420.7L589.5 419.3L589.2 417.9L588.8 416.5L588.5 415.1L588.1 413.7L587.8 412.2L587.4 410.8L587 409.3L586.6 407.9L586.2 406.4L585.8 404.9L585.4 403.4L585 401.9L584.5 400.4L584.1 398.8L583.6 397.3L583.1 395.7L582.6 394.1L582.1 392.5L581.6 390.9L581.1 389.3L580.6 387.7L580 386L579.4 384.4L578.8 382.7L578.2 381L577.6 379.3L577 377.5L576.3 375.8L575.6 374L575 372.2L574.2 370.5L573.5 368.6L572.8 366.8L572.1 365L571.4 363.1L570.6 361.2L569.9 359.3L569.1 357.3L568.3 355.4L567.4 353.4L566.5 351.4L565.6 349.4L564.7 347.4L563.7 345.3L562.7 343.2L561.7 341.1L560.6 339L559.5 336.8L558.4 334.6L557.2 332.4L556 330.2L554.7 327.9L553.3 325.6L551.9 323.3L550.4 321L548.9 318.6L547.4 316.1L545.7 313.7L544 311.2L542.3 308.7L540.5 306.2L538.6 303.6L536.7 300.9L534.7 298.3L532.6 295.6L530.4 292.8L528.2 290L525.8 287.2L523.4 284.3L521 281.4L518.4 278.5L515.7 275.4L513 272.4L510.2 269.3L507.3 266.1L504.3 262.9L501.1 259.6L497.9 256.2L494.6 252.8L491.2 249.3L487.6 245.8Z"/>
</g>
<g text-rendering="geometricPrecision">
<text y="51.7" font-size="16.2" fill="#000" stroke="#fff" stroke-width="0.35" xml:space="preserve"><tspan x="85.67" textLength="34.73" lengthAdjust="spacingAndGlyphs">AIRS</tspan> <tspan x="126.55" textLength="49.31" lengthAdjust="spacingAndGlyphs">SkewT</tspan> <tspan x="183.07" textLength="65.23" lengthAdjust="spacingAndGlyphs">Diagram</tspan> <tspan x="256.24" textLength="213.95" lengthAdjust="spacingAndGlyphs">2010-09-12/13:25:20.47</tspan> <tspan x="478.10" textLength="71.24" lengthAdjust="spacingAndGlyphs">(Lat/Lon</tspan> <tspan x="557.86" textLength="101.79" lengthAdjust="spacingAndGlyphs">1.82/175.31</tspan> <tspan x="666.32" textLength="36.67" lengthAdjust="spacingAndGlyphs">deg)</tspan></text>
<text x="113.02" y="65.80" fill="#ff0000" font-size="10.3" textLength="29.39" lengthAdjust="spacingAndGlyphs" stroke="#ff0000" stroke-width="0.08">−120</text>
<text x="181.01" y="65.80" fill="#ff0000" font-size="10.3" textLength="28.62" lengthAdjust="spacingAndGlyphs" stroke="#ff0000" stroke-width="0.08">−110</text>
<text x="249.74" y="65.80" fill="#ff0000" font-size="10.3" textLength="28.07" lengthAdjust="spacingAndGlyphs" stroke="#ff0000" stroke-width="0.08">−100</text>
<text x="323.29" y="65.80" fill="#ff0000" font-size="10.3" textLength="22.27" lengthAdjust="spacingAndGlyphs" stroke="#ff0000" stroke-width="0.08">−90</text>
<text x="391.87" y="65.80" fill="#ff0000" font-size="10.3" textLength="21.17" lengthAdjust="spacingAndGlyphs" stroke="#ff0000" stroke-width="0.08">−80</text>
<text x="458.92" y="65.80" fill="#ff0000" font-size="10.3" textLength="22.28" lengthAdjust="spacingAndGlyphs" stroke="#ff0000" stroke-width="0.08">−70</text>
<text x="526.36" y="65.80" fill="#ff0000" font-size="10.3" textLength="22.74" lengthAdjust="spacingAndGlyphs" stroke="#ff0000" stroke-width="0.08">−60</text>
<text x="593.96" y="65.80" fill="#ff0000" font-size="10.3" textLength="23.26" lengthAdjust="spacingAndGlyphs" stroke="#ff0000" stroke-width="0.08">−50</text>
<text x="662.46" y="65.80" fill="#ff0000" font-size="10.3" textLength="22.15" lengthAdjust="spacingAndGlyphs" stroke="#ff0000" stroke-width="0.08">−40</text>
<text x="86.66" y="516.90" fill="#ff0000" font-size="10.3" textLength="22.89" lengthAdjust="spacingAndGlyphs" stroke="#ff0000" stroke-width="0.08">−50</text>
<text x="153.98" y="516.90" fill="#ff0000" font-size="10.3" textLength="22.63" lengthAdjust="spacingAndGlyphs" stroke="#ff0000" stroke-width="0.08">−40</text>
<text x="221.97" y="516.90" fill="#ff0000" font-size="10.3" textLength="22.97" lengthAdjust="spacingAndGlyphs" stroke="#ff0000" stroke-width="0.08">−30</text>
<text x="289.65" y="516.90" fill="#ff0000" font-size="10.3" textLength="23.12" lengthAdjust="spacingAndGlyphs" stroke="#ff0000" stroke-width="0.08">−20</text>
<text x="357.70" y="516.90" fill="#ff0000" font-size="10.3" textLength="22.62" lengthAdjust="spacingAndGlyphs" stroke="#ff0000" stroke-width="0.08">−10</text>
<text x="433.48" y="516.90" fill="#ff0000" font-size="10.3" textLength="7.39" lengthAdjust="spacingAndGlyphs" stroke="#ff0000" stroke-width="0.08">0</text>
<text x="497.97" y="516.90" fill="#ff0000" font-size="10.3" textLength="13.51" lengthAdjust="spacingAndGlyphs" stroke="#ff0000" stroke-width="0.08">10</text>
<text x="565.02" y="516.90" fill="#ff0000" font-size="10.3" textLength="14.80" lengthAdjust="spacingAndGlyphs" stroke="#ff0000" stroke-width="0.08">20</text>
<text x="633.31" y="516.90" fill="#ff0000" font-size="10.3" textLength="13.27" lengthAdjust="spacingAndGlyphs" stroke="#ff0000" stroke-width="0.08">30</text>
<text x="677.14" y="516.90" fill="#ff0000" font-size="10.3" textLength="21.87" lengthAdjust="spacingAndGlyphs" stroke="#ff0000" stroke-width="0.08">T(C)</text>
<text x="46.87" y="75.10" fill="#000000" font-size="10.3" textLength="21.03" lengthAdjust="spacingAndGlyphs" stroke="#000000" stroke-width="0.08">100</text>
<text x="47.62" y="201.56" fill="#000000" font-size="10.3" textLength="20.23" lengthAdjust="spacingAndGlyphs" stroke="#000000" stroke-width="0.08">200</text>
<text x="47.55" y="275.54" fill="#000000" font-size="10.3" textLength="20.26" lengthAdjust="spacingAndGlyphs" stroke="#000000" stroke-width="0.08">300</text>
<text x="47.87" y="328.02" fill="#000000" font-size="10.3" textLength="19.81" lengthAdjust="spacingAndGlyphs" stroke="#000000" stroke-width="0.08">400</text>
<text x="47.57" y="368.74" fill="#000000" font-size="10.3" textLength="20.25" lengthAdjust="spacingAndGlyphs" stroke="#000000" stroke-width="0.08">500</text>
<text x="47.55" y="402.00" fill="#000000" font-size="10.3" textLength="20.28" lengthAdjust="spacingAndGlyphs" stroke="#000000" stroke-width="0.08">600</text>
<text x="47.29" y="430.12" fill="#000000" font-size="10.3" textLength="20.45" lengthAdjust="spacingAndGlyphs" stroke="#000000" stroke-width="0.08">700</text>
<text x="47.59" y="454.49" fill="#000000" font-size="10.3" textLength="20.28" lengthAdjust="spacingAndGlyphs" stroke="#000000" stroke-width="0.08">800</text>
<text x="47.66" y="475.98" fill="#000000" font-size="10.3" textLength="20.21" lengthAdjust="spacingAndGlyphs" stroke="#000000" stroke-width="0.08">900</text>
<text x="40.56" y="495.20" fill="#000000" font-size="10.3" textLength="27.14" lengthAdjust="spacingAndGlyphs" stroke="#000000" stroke-width="0.08">1000</text>
<text x="700.49" y="84.60" fill="#000000" font-size="13" textLength="45.72" lengthAdjust="spacingAndGlyphs" stroke="#fff" stroke-width="0.15">TP:100</text>
<text x="699.44" y="100.28" fill="#000000" font-size="13" textLength="51.99" lengthAdjust="spacingAndGlyphs" stroke="#fff" stroke-width="0.15">MW:N/A</text>
<text x="699.44" y="115.96" fill="#000000" font-size="13" textLength="54.76" lengthAdjust="spacingAndGlyphs" stroke="#fff" stroke-width="0.15">FRZ:565</text>
<text x="699.12" y="131.64" fill="#000000" font-size="13" textLength="57.75" lengthAdjust="spacingAndGlyphs" stroke="#fff" stroke-width="0.15">WB0:537</text>
<text x="698.41" y="147.32" fill="#000000" font-size="13" textLength="62.13" lengthAdjust="spacingAndGlyphs" stroke="#fff" stroke-width="0.15">PW:33.66</text>
<text x="699.37" y="163.00" fill="#000000" font-size="13" textLength="52.76" lengthAdjust="spacingAndGlyphs" stroke="#fff" stroke-width="0.15">RH:41.0</text>
<text x="698.56" y="178.68" fill="#000000" font-size="13" textLength="66.49" lengthAdjust="spacingAndGlyphs" stroke="#fff" stroke-width="0.15">MAXT:29.3</text>
<text x="700.25" y="194.36" fill="#000000" font-size="13" textLength="53.82" lengthAdjust="spacingAndGlyphs" stroke="#fff" stroke-width="0.15">TH:5463</text>
<text x="699.52" y="210.04" fill="#000000" font-size="13" textLength="48.07" lengthAdjust="spacingAndGlyphs" stroke="#fff" stroke-width="0.15">L57:6.1</text>
<text x="698.38" y="225.72" fill="#000000" font-size="13" textLength="62.04" lengthAdjust="spacingAndGlyphs" stroke="#fff" stroke-width="0.15">LCL:1005</text>
<text x="700.30" y="241.40" fill="#000000" font-size="13" textLength="47.89" lengthAdjust="spacingAndGlyphs" stroke="#fff" stroke-width="0.15">LI:−3.4</text>
<text x="700.63" y="257.08" fill="#000000" font-size="13" textLength="38.23" lengthAdjust="spacingAndGlyphs" stroke="#fff" stroke-width="0.15">SI:8.5</text>
<text x="699.78" y="272.76" fill="#000000" font-size="13" textLength="48.29" lengthAdjust="spacingAndGlyphs" stroke="#fff" stroke-width="0.15">TT:33.4</text>
<text x="700.42" y="288.44" fill="#000000" font-size="13" textLength="43.17" lengthAdjust="spacingAndGlyphs" stroke="#fff" stroke-width="0.15">KI:276</text>
<text x="699.71" y="304.12" fill="#000000" font-size="13" textLength="49.72" lengthAdjust="spacingAndGlyphs" stroke="#fff" stroke-width="0.15">SW:N/A</text>
<text x="701.72" y="319.80" fill="#000000" font-size="13" textLength="36.35" lengthAdjust="spacingAndGlyphs" stroke="#fff" stroke-width="0.15">EI:0.2</text>
<text x="697.50" y="335.48" fill="#000000" font-size="13" textLength="71.44" lengthAdjust="spacingAndGlyphs" stroke="#fff" stroke-width="0.15">−PARCEL−</text>
<text x="698.08" y="351.16" fill="#000000" font-size="13" textLength="71.62" lengthAdjust="spacingAndGlyphs" stroke="#fff" stroke-width="0.15">CAPE:1554</text>
<text x="700.87" y="366.84" fill="#000000" font-size="13" textLength="43.70" lengthAdjust="spacingAndGlyphs" stroke="#fff" stroke-width="0.15">CINH:2</text>
<text x="698.38" y="382.52" fill="#000000" font-size="13" textLength="62.04" lengthAdjust="spacingAndGlyphs" stroke="#fff" stroke-width="0.15">LCL:1005</text>
<text x="699.95" y="398.20" fill="#000000" font-size="13" textLength="50.98" lengthAdjust="spacingAndGlyphs" stroke="#fff" stroke-width="0.15">CAP:0.0</text>
<text x="699.47" y="413.88" fill="#000000" font-size="13" textLength="53.84" lengthAdjust="spacingAndGlyphs" stroke="#fff" stroke-width="0.15">LFC:986</text>
<text x="700.35" y="429.56" fill="#000000" font-size="13" textLength="45.64" lengthAdjust="spacingAndGlyphs" stroke="#fff" stroke-width="0.15">EL:148</text>
<text x="699.57" y="445.24" fill="#000000" font-size="13" textLength="54.38" lengthAdjust="spacingAndGlyphs" stroke="#fff" stroke-width="0.15">MPL:101</text>
<text x="699.86" y="460.92" fill="#000000" font-size="13" textLength="53.15" lengthAdjust="spacingAndGlyphs" stroke="#fff" stroke-width="0.15">−WIND−</text>
<text x="702.46" y="476.60" fill="#000000" font-size="13" textLength="25.93" lengthAdjust="spacingAndGlyphs" stroke="#fff" stroke-width="0.15">NOT</text>
<text x="701.70" y="492.28" fill="#000000" font-size="13" textLength="33.84" lengthAdjust="spacingAndGlyphs" stroke="#fff" stroke-width="0.15">AVAIL</text>
<text x="673.43" y="527.00" fill="#5500aa" font-size="12.5" textLength="35.81" lengthAdjust="spacingAndGlyphs" stroke="#fff" stroke-width="0.15">(g/kg)</text>
<text x="0" y="0" fill="#000" font-size="13.6" stroke="#fff" stroke-width="0.3" text-anchor="middle" textLength="104.5" lengthAdjust="spacingAndGlyphs" transform="translate(82.3 279.5) rotate(-90)">PRESSURE (MB)</text>
<text x="0" y="3.6" fill="#5500aa" stroke="#5500aa" stroke-width="0.1" font-size="10" text-anchor="middle" transform="translate(142.5 522.8) rotate(-47) scale(1.08 1)">0.1</text>
<text x="0" y="3.6" fill="#5500aa" stroke="#5500aa" stroke-width="0.1" font-size="10" text-anchor="middle" transform="translate(188.9 522.9) rotate(-47) scale(1.08 1)">0.2</text>
<text x="0" y="3.6" fill="#5500aa" stroke="#5500aa" stroke-width="0.1" font-size="10" text-anchor="middle" transform="translate(254.5 523.4) rotate(-47) scale(1.08 1)">0.5</text>
<text x="0" y="3.6" fill="#5500aa" stroke="#5500aa" stroke-width="0.1" font-size="10" text-anchor="middle" transform="translate(307.2 523) rotate(-47) scale(1.08 1)">1</text>
<text x="0" y="3.6" fill="#5500aa" stroke="#5500aa" stroke-width="0.1" font-size="10" text-anchor="middle" transform="translate(340.8 522) rotate(-47) scale(1.08 1)">1.5</text>
<text x="0" y="3.6" fill="#5500aa" stroke="#5500aa" stroke-width="0.1" font-size="10" text-anchor="middle" transform="translate(365.1 523.5) rotate(-47) scale(1.08 1)">2</text>
<text x="0" y="3.6" fill="#5500aa" stroke="#5500aa" stroke-width="0.1" font-size="10" text-anchor="middle" transform="translate(400.2 523) rotate(-47) scale(1.08 1)">3</text>
<text x="0" y="3.6" fill="#5500aa" stroke="#5500aa" stroke-width="0.1" font-size="10" text-anchor="middle" transform="translate(427.8 523) rotate(-47) scale(1.08 1)">4</text>
<text x="0" y="3.6" fill="#5500aa" stroke="#5500aa" stroke-width="0.1" font-size="10" text-anchor="middle" transform="translate(465.5 523) rotate(-47) scale(1.08 1)">6</text>
<text x="0" y="3.6" fill="#5500aa" stroke="#5500aa" stroke-width="0.1" font-size="10" text-anchor="middle" transform="translate(494 523) rotate(-47) scale(1.08 1)">8</text>
<text x="0" y="3.6" fill="#5500aa" stroke="#5500aa" stroke-width="0.1" font-size="10" text-anchor="middle" transform="translate(516.7 522.5) rotate(-47) scale(1.08 1)">10</text>
<text x="0" y="3.6" fill="#5500aa" stroke="#5500aa" stroke-width="0.1" font-size="10" text-anchor="middle" transform="translate(536.5 522.3) rotate(-47) scale(1.08 1)">12</text>
<text x="0" y="3.6" fill="#5500aa" stroke="#5500aa" stroke-width="0.1" font-size="10" text-anchor="middle" transform="translate(559 522.5) rotate(-47) scale(1.08 1)">15</text>
<text x="0" y="3.6" fill="#5500aa" stroke="#5500aa" stroke-width="0.1" font-size="10" text-anchor="middle" transform="translate(589.3 523) rotate(-47) scale(1.08 1)">20</text>
<text x="0" y="3.6" fill="#5500aa" stroke="#5500aa" stroke-width="0.1" font-size="10" text-anchor="middle" transform="translate(614 523.2) rotate(-47) scale(1.08 1)">25</text>
<text x="0" y="3.6" fill="#5500aa" stroke="#5500aa" stroke-width="0.1" font-size="10" text-anchor="middle" transform="translate(634.7 523) rotate(-47) scale(1.08 1)">30</text>
<text x="0" y="3.6" fill="#5500aa" stroke="#5500aa" stroke-width="0.1" font-size="10" text-anchor="middle" transform="translate(669 523) rotate(-47) scale(1.08 1)">40</text>
<text x="0" y="3.6" fill="#5500aa" stroke="#5500aa" stroke-width="0.1" font-size="10" text-anchor="middle" transform="translate(670.5 523.5) rotate(-47) scale(1.08 1)">50</text>
</g>
</svg>
</body></html>
